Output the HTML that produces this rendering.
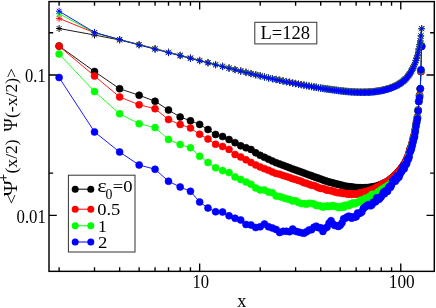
<!DOCTYPE html>
<html><head><meta charset="utf-8"><title>chart</title>
<style>html,body{margin:0;padding:0;background:#fff;overflow:hidden}svg{display:block;will-change:transform}</style>
</head><body>
<svg width="436" height="308" viewBox="0 0 436 308">
<rect width="436" height="308" fill="#ffffff"/>
<defs><clipPath id="c"><rect x="49" y="1.6" width="385.3" height="269.75"/></clipPath></defs>
<g clip-path="url(#c)">
<path d="M59.1 46 L94.51 71.5 L119.64 88.75 L139.13 95.25 L155.05 101.25 L168.51 110 L180.17 117 L190.46 120.75 L199.66 124.4 L207.99 129.5 L215.59 134.5 L222.58 136.5 L229.05 139.5 L235.07 142.7 L240.71 145.8 L246.01 147.75 L251 149.5 L255.72 152.81 L260.2 155.36 L264.46 157.35 L268.52 159.24 L272.41 161.05 L276.12 162.71 L279.69 164.06 L283.11 165.36 L286.41 166.61 L289.59 167.81 L292.65 168.97 L295.61 170.04 L298.48 171.08 L301.25 172.08 L303.94 173.05 L306.54 174 L309.07 174.91 L311.54 175.8 L313.93 176.66 L316.26 177.49 L318.53 178.31 L320.74 179.1 L322.89 179.88 L325 180.63 L327.05 181.37 L329.06 181.96 L331.02 182.47 L332.94 182.97 L334.82 183.46 L336.66 183.94 L338.46 184.41 L340.23 184.87 L341.96 185.33 L343.65 185.77 L345.31 186.2 L346.95 186.42 L348.55 186.63 L350.12 186.83 L351.67 187.03 L353.19 187.23 L354.68 187.43 L356.15 187.61 L357.59 187.67 L359.01 187.74 L360.41 187.8 L361.79 187.87 L363.14 187.87 L364.47 187.8 L365.79 187.74 L367.08 187.67 L368.36 187.61 L369.61 187.43 L370.85 187.23 L372.07 187.03 L373.28 186.83 L374.47 186.63 L375.64 186.42 L376.79 186.2 L377.94 185.77 L379.06 185.33 L380.18 184.87 L381.27 184.41 L382.36 183.94 L383.43 183.46 L384.49 182.97 L385.54 182.47 L386.57 181.96 L387.59 181.37 L388.6 180.63 L389.6 179.88 L390.59 179.1 L391.56 178.31 L392.53 177.49 L393.48 176.66 L394.42 175.8 L395.36 174.91 L396.28 174 L397.2 173.05 L398.1 172.08 L399 171.08 L399.89 170.04 L400.76 168.97 L401.63 167.81 L402.49 166.61 L403.34 165.36 L404.19 164.06 L405.02 162.71 L405.85 161.05 L406.67 159.24 L407.48 157.35 L408.29 155.36 L409.09 152.81 L409.88 149.5 L410.66 147.75 L411.44 145.8 L412.21 142.7 L412.97 139.5 L413.73 136.5 L414.48 134.5 L415.22 129.5 L415.96 124.4 L416.69 120.75 L417.41 117 L418.13 110 L418.84 101.25 L419.55 95.25 L420.25 88.75 L420.95 71.5 L421.64 46" fill="none" stroke="#000000" stroke-width="0.9" stroke-linejoin="round"/>
<path d="M55.6 46a3.5 3.5 0 1 0 7 0a3.5 3.5 0 1 0 -7 0zM91.01 71.5a3.5 3.5 0 1 0 7 0a3.5 3.5 0 1 0 -7 0zM116.14 88.75a3.5 3.5 0 1 0 7 0a3.5 3.5 0 1 0 -7 0zM135.63 95.25a3.5 3.5 0 1 0 7 0a3.5 3.5 0 1 0 -7 0zM151.55 101.25a3.5 3.5 0 1 0 7 0a3.5 3.5 0 1 0 -7 0zM165.01 110a3.5 3.5 0 1 0 7 0a3.5 3.5 0 1 0 -7 0zM176.67 117a3.5 3.5 0 1 0 7 0a3.5 3.5 0 1 0 -7 0zM186.96 120.75a3.5 3.5 0 1 0 7 0a3.5 3.5 0 1 0 -7 0zM196.16 124.4a3.5 3.5 0 1 0 7 0a3.5 3.5 0 1 0 -7 0zM204.49 129.5a3.5 3.5 0 1 0 7 0a3.5 3.5 0 1 0 -7 0zM212.09 134.5a3.5 3.5 0 1 0 7 0a3.5 3.5 0 1 0 -7 0zM219.08 136.5a3.5 3.5 0 1 0 7 0a3.5 3.5 0 1 0 -7 0zM225.55 139.5a3.5 3.5 0 1 0 7 0a3.5 3.5 0 1 0 -7 0zM231.57 142.7a3.5 3.5 0 1 0 7 0a3.5 3.5 0 1 0 -7 0zM237.21 145.8a3.5 3.5 0 1 0 7 0a3.5 3.5 0 1 0 -7 0zM242.51 147.75a3.5 3.5 0 1 0 7 0a3.5 3.5 0 1 0 -7 0zM247.5 149.5a3.5 3.5 0 1 0 7 0a3.5 3.5 0 1 0 -7 0zM252.22 152.81a3.5 3.5 0 1 0 7 0a3.5 3.5 0 1 0 -7 0zM256.7 155.36a3.5 3.5 0 1 0 7 0a3.5 3.5 0 1 0 -7 0zM260.96 157.35a3.5 3.5 0 1 0 7 0a3.5 3.5 0 1 0 -7 0zM265.02 159.24a3.5 3.5 0 1 0 7 0a3.5 3.5 0 1 0 -7 0zM268.91 161.05a3.5 3.5 0 1 0 7 0a3.5 3.5 0 1 0 -7 0zM272.62 162.71a3.5 3.5 0 1 0 7 0a3.5 3.5 0 1 0 -7 0zM276.19 164.06a3.5 3.5 0 1 0 7 0a3.5 3.5 0 1 0 -7 0zM279.61 165.36a3.5 3.5 0 1 0 7 0a3.5 3.5 0 1 0 -7 0zM282.91 166.61a3.5 3.5 0 1 0 7 0a3.5 3.5 0 1 0 -7 0zM286.09 167.81a3.5 3.5 0 1 0 7 0a3.5 3.5 0 1 0 -7 0zM289.15 168.97a3.5 3.5 0 1 0 7 0a3.5 3.5 0 1 0 -7 0zM292.11 170.04a3.5 3.5 0 1 0 7 0a3.5 3.5 0 1 0 -7 0zM294.98 171.08a3.5 3.5 0 1 0 7 0a3.5 3.5 0 1 0 -7 0zM297.75 172.08a3.5 3.5 0 1 0 7 0a3.5 3.5 0 1 0 -7 0zM300.44 173.05a3.5 3.5 0 1 0 7 0a3.5 3.5 0 1 0 -7 0zM303.04 174a3.5 3.5 0 1 0 7 0a3.5 3.5 0 1 0 -7 0zM305.57 174.91a3.5 3.5 0 1 0 7 0a3.5 3.5 0 1 0 -7 0zM308.04 175.8a3.5 3.5 0 1 0 7 0a3.5 3.5 0 1 0 -7 0zM310.43 176.66a3.5 3.5 0 1 0 7 0a3.5 3.5 0 1 0 -7 0zM312.76 177.49a3.5 3.5 0 1 0 7 0a3.5 3.5 0 1 0 -7 0zM315.03 178.31a3.5 3.5 0 1 0 7 0a3.5 3.5 0 1 0 -7 0zM317.24 179.1a3.5 3.5 0 1 0 7 0a3.5 3.5 0 1 0 -7 0zM319.39 179.88a3.5 3.5 0 1 0 7 0a3.5 3.5 0 1 0 -7 0zM321.5 180.63a3.5 3.5 0 1 0 7 0a3.5 3.5 0 1 0 -7 0zM323.55 181.37a3.5 3.5 0 1 0 7 0a3.5 3.5 0 1 0 -7 0zM325.56 181.96a3.5 3.5 0 1 0 7 0a3.5 3.5 0 1 0 -7 0zM327.52 182.47a3.5 3.5 0 1 0 7 0a3.5 3.5 0 1 0 -7 0zM329.44 182.97a3.5 3.5 0 1 0 7 0a3.5 3.5 0 1 0 -7 0zM331.32 183.46a3.5 3.5 0 1 0 7 0a3.5 3.5 0 1 0 -7 0zM333.16 183.94a3.5 3.5 0 1 0 7 0a3.5 3.5 0 1 0 -7 0zM334.96 184.41a3.5 3.5 0 1 0 7 0a3.5 3.5 0 1 0 -7 0zM336.73 184.87a3.5 3.5 0 1 0 7 0a3.5 3.5 0 1 0 -7 0zM338.46 185.33a3.5 3.5 0 1 0 7 0a3.5 3.5 0 1 0 -7 0zM340.15 185.77a3.5 3.5 0 1 0 7 0a3.5 3.5 0 1 0 -7 0zM341.81 186.2a3.5 3.5 0 1 0 7 0a3.5 3.5 0 1 0 -7 0zM343.45 186.42a3.5 3.5 0 1 0 7 0a3.5 3.5 0 1 0 -7 0zM345.05 186.63a3.5 3.5 0 1 0 7 0a3.5 3.5 0 1 0 -7 0zM346.62 186.83a3.5 3.5 0 1 0 7 0a3.5 3.5 0 1 0 -7 0zM348.17 187.03a3.5 3.5 0 1 0 7 0a3.5 3.5 0 1 0 -7 0zM349.69 187.23a3.5 3.5 0 1 0 7 0a3.5 3.5 0 1 0 -7 0zM351.18 187.43a3.5 3.5 0 1 0 7 0a3.5 3.5 0 1 0 -7 0zM352.65 187.61a3.5 3.5 0 1 0 7 0a3.5 3.5 0 1 0 -7 0zM354.09 187.67a3.5 3.5 0 1 0 7 0a3.5 3.5 0 1 0 -7 0zM355.51 187.74a3.5 3.5 0 1 0 7 0a3.5 3.5 0 1 0 -7 0zM356.91 187.8a3.5 3.5 0 1 0 7 0a3.5 3.5 0 1 0 -7 0zM358.29 187.87a3.5 3.5 0 1 0 7 0a3.5 3.5 0 1 0 -7 0zM359.64 187.87a3.5 3.5 0 1 0 7 0a3.5 3.5 0 1 0 -7 0zM360.97 187.8a3.5 3.5 0 1 0 7 0a3.5 3.5 0 1 0 -7 0zM362.29 187.74a3.5 3.5 0 1 0 7 0a3.5 3.5 0 1 0 -7 0zM363.58 187.67a3.5 3.5 0 1 0 7 0a3.5 3.5 0 1 0 -7 0zM364.86 187.61a3.5 3.5 0 1 0 7 0a3.5 3.5 0 1 0 -7 0zM366.11 187.43a3.5 3.5 0 1 0 7 0a3.5 3.5 0 1 0 -7 0zM367.35 187.23a3.5 3.5 0 1 0 7 0a3.5 3.5 0 1 0 -7 0zM368.57 187.03a3.5 3.5 0 1 0 7 0a3.5 3.5 0 1 0 -7 0zM369.78 186.83a3.5 3.5 0 1 0 7 0a3.5 3.5 0 1 0 -7 0zM370.97 186.63a3.5 3.5 0 1 0 7 0a3.5 3.5 0 1 0 -7 0zM372.14 186.42a3.5 3.5 0 1 0 7 0a3.5 3.5 0 1 0 -7 0zM373.29 186.2a3.5 3.5 0 1 0 7 0a3.5 3.5 0 1 0 -7 0zM374.44 185.77a3.5 3.5 0 1 0 7 0a3.5 3.5 0 1 0 -7 0zM375.56 185.33a3.5 3.5 0 1 0 7 0a3.5 3.5 0 1 0 -7 0zM376.68 184.87a3.5 3.5 0 1 0 7 0a3.5 3.5 0 1 0 -7 0zM377.77 184.41a3.5 3.5 0 1 0 7 0a3.5 3.5 0 1 0 -7 0zM378.86 183.94a3.5 3.5 0 1 0 7 0a3.5 3.5 0 1 0 -7 0zM379.93 183.46a3.5 3.5 0 1 0 7 0a3.5 3.5 0 1 0 -7 0zM380.99 182.97a3.5 3.5 0 1 0 7 0a3.5 3.5 0 1 0 -7 0zM382.04 182.47a3.5 3.5 0 1 0 7 0a3.5 3.5 0 1 0 -7 0zM383.07 181.96a3.5 3.5 0 1 0 7 0a3.5 3.5 0 1 0 -7 0zM384.09 181.37a3.5 3.5 0 1 0 7 0a3.5 3.5 0 1 0 -7 0zM385.1 180.63a3.5 3.5 0 1 0 7 0a3.5 3.5 0 1 0 -7 0zM386.1 179.88a3.5 3.5 0 1 0 7 0a3.5 3.5 0 1 0 -7 0zM387.09 179.1a3.5 3.5 0 1 0 7 0a3.5 3.5 0 1 0 -7 0zM388.06 178.31a3.5 3.5 0 1 0 7 0a3.5 3.5 0 1 0 -7 0zM389.03 177.49a3.5 3.5 0 1 0 7 0a3.5 3.5 0 1 0 -7 0zM389.98 176.66a3.5 3.5 0 1 0 7 0a3.5 3.5 0 1 0 -7 0zM390.92 175.8a3.5 3.5 0 1 0 7 0a3.5 3.5 0 1 0 -7 0zM391.86 174.91a3.5 3.5 0 1 0 7 0a3.5 3.5 0 1 0 -7 0zM392.78 174a3.5 3.5 0 1 0 7 0a3.5 3.5 0 1 0 -7 0zM393.7 173.05a3.5 3.5 0 1 0 7 0a3.5 3.5 0 1 0 -7 0zM394.6 172.08a3.5 3.5 0 1 0 7 0a3.5 3.5 0 1 0 -7 0zM395.5 171.08a3.5 3.5 0 1 0 7 0a3.5 3.5 0 1 0 -7 0zM396.39 170.04a3.5 3.5 0 1 0 7 0a3.5 3.5 0 1 0 -7 0zM397.26 168.97a3.5 3.5 0 1 0 7 0a3.5 3.5 0 1 0 -7 0zM398.13 167.81a3.5 3.5 0 1 0 7 0a3.5 3.5 0 1 0 -7 0zM398.99 166.61a3.5 3.5 0 1 0 7 0a3.5 3.5 0 1 0 -7 0zM399.84 165.36a3.5 3.5 0 1 0 7 0a3.5 3.5 0 1 0 -7 0zM400.69 164.06a3.5 3.5 0 1 0 7 0a3.5 3.5 0 1 0 -7 0zM401.52 162.71a3.5 3.5 0 1 0 7 0a3.5 3.5 0 1 0 -7 0zM402.35 161.05a3.5 3.5 0 1 0 7 0a3.5 3.5 0 1 0 -7 0zM403.17 159.24a3.5 3.5 0 1 0 7 0a3.5 3.5 0 1 0 -7 0zM403.98 157.35a3.5 3.5 0 1 0 7 0a3.5 3.5 0 1 0 -7 0zM404.79 155.36a3.5 3.5 0 1 0 7 0a3.5 3.5 0 1 0 -7 0zM405.59 152.81a3.5 3.5 0 1 0 7 0a3.5 3.5 0 1 0 -7 0zM406.38 149.5a3.5 3.5 0 1 0 7 0a3.5 3.5 0 1 0 -7 0zM407.16 147.75a3.5 3.5 0 1 0 7 0a3.5 3.5 0 1 0 -7 0zM407.94 145.8a3.5 3.5 0 1 0 7 0a3.5 3.5 0 1 0 -7 0zM408.71 142.7a3.5 3.5 0 1 0 7 0a3.5 3.5 0 1 0 -7 0zM409.47 139.5a3.5 3.5 0 1 0 7 0a3.5 3.5 0 1 0 -7 0zM410.23 136.5a3.5 3.5 0 1 0 7 0a3.5 3.5 0 1 0 -7 0zM410.98 134.5a3.5 3.5 0 1 0 7 0a3.5 3.5 0 1 0 -7 0zM411.72 129.5a3.5 3.5 0 1 0 7 0a3.5 3.5 0 1 0 -7 0zM412.46 124.4a3.5 3.5 0 1 0 7 0a3.5 3.5 0 1 0 -7 0zM413.19 120.75a3.5 3.5 0 1 0 7 0a3.5 3.5 0 1 0 -7 0zM413.91 117a3.5 3.5 0 1 0 7 0a3.5 3.5 0 1 0 -7 0zM414.63 110a3.5 3.5 0 1 0 7 0a3.5 3.5 0 1 0 -7 0zM415.34 101.25a3.5 3.5 0 1 0 7 0a3.5 3.5 0 1 0 -7 0zM416.05 95.25a3.5 3.5 0 1 0 7 0a3.5 3.5 0 1 0 -7 0zM416.75 88.75a3.5 3.5 0 1 0 7 0a3.5 3.5 0 1 0 -7 0zM417.45 71.5a3.5 3.5 0 1 0 7 0a3.5 3.5 0 1 0 -7 0zM418.14 46a3.5 3.5 0 1 0 7 0a3.5 3.5 0 1 0 -7 0z" fill="#000000" stroke="#000000" stroke-width="0.6"/>
<path d="M59.1 46.25 L94.51 76 L119.64 97 L139.13 104.75 L155.05 108.75 L168.51 119.5 L180.17 124.5 L190.46 128 L199.66 134.25 L207.99 139 L215.59 144.25 L222.58 146.5 L229.05 149.4 L235.07 154.5 L240.71 157 L246.01 159.8 L251 162.45 L255.72 164.95 L260.2 166.98 L264.46 168.66 L268.52 170.31 L272.41 172.03 L276.12 173.58 L279.69 174.26 L283.11 175.53 L286.41 176.48 L289.59 177.51 L292.65 178.68 L295.61 179.42 L298.48 180.46 L301.25 181.33 L303.94 182.69 L306.54 183.31 L309.07 184.33 L311.54 185.24 L313.93 185.4 L316.26 186.52 L318.53 187.71 L320.74 188.38 L322.89 188.44 L325 189.17 L327.05 190.21 L329.06 190.31 L331.02 190.83 L332.94 191 L334.82 191.92 L336.66 192.36 L338.46 192.79 L340.23 192.36 L341.96 193.23 L343.65 193.47 L345.31 193.24 L346.95 194.08 L348.55 194.25 L350.12 193.59 L351.67 194.41 L353.19 193.94 L354.68 194.01 L356.15 194.28 L357.59 193.89 L359.01 193 L360.41 193.04 L361.79 192.91 L363.14 192.5 L364.47 191.98 L365.79 191.72 L367.08 191.74 L368.36 190.65 L369.61 190.78 L370.85 190.26 L372.07 189.39 L373.28 189.11 L374.47 188.81 L375.64 188.09 L376.79 187.02 L377.94 187.31 L379.06 186.46 L380.18 185.99 L381.27 184.54 L382.36 184.18 L383.43 183.43 L384.49 183.63 L385.54 182.57 L386.57 181.87 L387.59 181.55 L388.6 181.3 L389.6 180.45 L390.59 179.12 L391.56 178.56 L392.53 177.75 L393.48 176.91 L394.42 176.05 L395.36 175.16 L396.28 174.25 L397.2 173.3 L398.1 172.33 L399 171.32 L399.89 170.29 L400.76 169.21 L401.63 168.05 L402.49 166.84 L403.34 165.59 L404.19 164.3 L405.02 162.95 L405.85 161.28 L406.67 159.47 L407.48 157.58 L408.29 155.59 L409.09 153.04 L409.88 149.72 L410.66 147.97 L411.44 146.02 L412.21 142.92 L412.97 139.72 L413.73 136.72 L414.48 134.72 L415.22 129.71 L415.96 124.61 L416.69 120.96 L417.41 117.21 L418.13 110.21 L418.84 101.46 L419.55 95.45 L420.25 88.95 L420.95 71.7 L421.64 46.2" fill="none" stroke="#ff0000" stroke-width="0.9" stroke-linejoin="round"/>
<path d="M55.6 46.25a3.5 3.5 0 1 0 7 0a3.5 3.5 0 1 0 -7 0zM91.01 76a3.5 3.5 0 1 0 7 0a3.5 3.5 0 1 0 -7 0zM116.14 97a3.5 3.5 0 1 0 7 0a3.5 3.5 0 1 0 -7 0zM135.63 104.75a3.5 3.5 0 1 0 7 0a3.5 3.5 0 1 0 -7 0zM151.55 108.75a3.5 3.5 0 1 0 7 0a3.5 3.5 0 1 0 -7 0zM165.01 119.5a3.5 3.5 0 1 0 7 0a3.5 3.5 0 1 0 -7 0zM176.67 124.5a3.5 3.5 0 1 0 7 0a3.5 3.5 0 1 0 -7 0zM186.96 128a3.5 3.5 0 1 0 7 0a3.5 3.5 0 1 0 -7 0zM196.16 134.25a3.5 3.5 0 1 0 7 0a3.5 3.5 0 1 0 -7 0zM204.49 139a3.5 3.5 0 1 0 7 0a3.5 3.5 0 1 0 -7 0zM212.09 144.25a3.5 3.5 0 1 0 7 0a3.5 3.5 0 1 0 -7 0zM219.08 146.5a3.5 3.5 0 1 0 7 0a3.5 3.5 0 1 0 -7 0zM225.55 149.4a3.5 3.5 0 1 0 7 0a3.5 3.5 0 1 0 -7 0zM231.57 154.5a3.5 3.5 0 1 0 7 0a3.5 3.5 0 1 0 -7 0zM237.21 157a3.5 3.5 0 1 0 7 0a3.5 3.5 0 1 0 -7 0zM242.51 159.8a3.5 3.5 0 1 0 7 0a3.5 3.5 0 1 0 -7 0zM247.5 162.45a3.5 3.5 0 1 0 7 0a3.5 3.5 0 1 0 -7 0zM252.22 164.95a3.5 3.5 0 1 0 7 0a3.5 3.5 0 1 0 -7 0zM256.7 166.98a3.5 3.5 0 1 0 7 0a3.5 3.5 0 1 0 -7 0zM260.96 168.66a3.5 3.5 0 1 0 7 0a3.5 3.5 0 1 0 -7 0zM265.02 170.31a3.5 3.5 0 1 0 7 0a3.5 3.5 0 1 0 -7 0zM268.91 172.03a3.5 3.5 0 1 0 7 0a3.5 3.5 0 1 0 -7 0zM272.62 173.58a3.5 3.5 0 1 0 7 0a3.5 3.5 0 1 0 -7 0zM276.19 174.26a3.5 3.5 0 1 0 7 0a3.5 3.5 0 1 0 -7 0zM279.61 175.53a3.5 3.5 0 1 0 7 0a3.5 3.5 0 1 0 -7 0zM282.91 176.48a3.5 3.5 0 1 0 7 0a3.5 3.5 0 1 0 -7 0zM286.09 177.51a3.5 3.5 0 1 0 7 0a3.5 3.5 0 1 0 -7 0zM289.15 178.68a3.5 3.5 0 1 0 7 0a3.5 3.5 0 1 0 -7 0zM292.11 179.42a3.5 3.5 0 1 0 7 0a3.5 3.5 0 1 0 -7 0zM294.98 180.46a3.5 3.5 0 1 0 7 0a3.5 3.5 0 1 0 -7 0zM297.75 181.33a3.5 3.5 0 1 0 7 0a3.5 3.5 0 1 0 -7 0zM300.44 182.69a3.5 3.5 0 1 0 7 0a3.5 3.5 0 1 0 -7 0zM303.04 183.31a3.5 3.5 0 1 0 7 0a3.5 3.5 0 1 0 -7 0zM305.57 184.33a3.5 3.5 0 1 0 7 0a3.5 3.5 0 1 0 -7 0zM308.04 185.24a3.5 3.5 0 1 0 7 0a3.5 3.5 0 1 0 -7 0zM310.43 185.4a3.5 3.5 0 1 0 7 0a3.5 3.5 0 1 0 -7 0zM312.76 186.52a3.5 3.5 0 1 0 7 0a3.5 3.5 0 1 0 -7 0zM315.03 187.71a3.5 3.5 0 1 0 7 0a3.5 3.5 0 1 0 -7 0zM317.24 188.38a3.5 3.5 0 1 0 7 0a3.5 3.5 0 1 0 -7 0zM319.39 188.44a3.5 3.5 0 1 0 7 0a3.5 3.5 0 1 0 -7 0zM321.5 189.17a3.5 3.5 0 1 0 7 0a3.5 3.5 0 1 0 -7 0zM323.55 190.21a3.5 3.5 0 1 0 7 0a3.5 3.5 0 1 0 -7 0zM325.56 190.31a3.5 3.5 0 1 0 7 0a3.5 3.5 0 1 0 -7 0zM327.52 190.83a3.5 3.5 0 1 0 7 0a3.5 3.5 0 1 0 -7 0zM329.44 191a3.5 3.5 0 1 0 7 0a3.5 3.5 0 1 0 -7 0zM331.32 191.92a3.5 3.5 0 1 0 7 0a3.5 3.5 0 1 0 -7 0zM333.16 192.36a3.5 3.5 0 1 0 7 0a3.5 3.5 0 1 0 -7 0zM334.96 192.79a3.5 3.5 0 1 0 7 0a3.5 3.5 0 1 0 -7 0zM336.73 192.36a3.5 3.5 0 1 0 7 0a3.5 3.5 0 1 0 -7 0zM338.46 193.23a3.5 3.5 0 1 0 7 0a3.5 3.5 0 1 0 -7 0zM340.15 193.47a3.5 3.5 0 1 0 7 0a3.5 3.5 0 1 0 -7 0zM341.81 193.24a3.5 3.5 0 1 0 7 0a3.5 3.5 0 1 0 -7 0zM343.45 194.08a3.5 3.5 0 1 0 7 0a3.5 3.5 0 1 0 -7 0zM345.05 194.25a3.5 3.5 0 1 0 7 0a3.5 3.5 0 1 0 -7 0zM346.62 193.59a3.5 3.5 0 1 0 7 0a3.5 3.5 0 1 0 -7 0zM348.17 194.41a3.5 3.5 0 1 0 7 0a3.5 3.5 0 1 0 -7 0zM349.69 193.94a3.5 3.5 0 1 0 7 0a3.5 3.5 0 1 0 -7 0zM351.18 194.01a3.5 3.5 0 1 0 7 0a3.5 3.5 0 1 0 -7 0zM352.65 194.28a3.5 3.5 0 1 0 7 0a3.5 3.5 0 1 0 -7 0zM354.09 193.89a3.5 3.5 0 1 0 7 0a3.5 3.5 0 1 0 -7 0zM355.51 193a3.5 3.5 0 1 0 7 0a3.5 3.5 0 1 0 -7 0zM356.91 193.04a3.5 3.5 0 1 0 7 0a3.5 3.5 0 1 0 -7 0zM358.29 192.91a3.5 3.5 0 1 0 7 0a3.5 3.5 0 1 0 -7 0zM359.64 192.5a3.5 3.5 0 1 0 7 0a3.5 3.5 0 1 0 -7 0zM360.97 191.98a3.5 3.5 0 1 0 7 0a3.5 3.5 0 1 0 -7 0zM362.29 191.72a3.5 3.5 0 1 0 7 0a3.5 3.5 0 1 0 -7 0zM363.58 191.74a3.5 3.5 0 1 0 7 0a3.5 3.5 0 1 0 -7 0zM364.86 190.65a3.5 3.5 0 1 0 7 0a3.5 3.5 0 1 0 -7 0zM366.11 190.78a3.5 3.5 0 1 0 7 0a3.5 3.5 0 1 0 -7 0zM367.35 190.26a3.5 3.5 0 1 0 7 0a3.5 3.5 0 1 0 -7 0zM368.57 189.39a3.5 3.5 0 1 0 7 0a3.5 3.5 0 1 0 -7 0zM369.78 189.11a3.5 3.5 0 1 0 7 0a3.5 3.5 0 1 0 -7 0zM370.97 188.81a3.5 3.5 0 1 0 7 0a3.5 3.5 0 1 0 -7 0zM372.14 188.09a3.5 3.5 0 1 0 7 0a3.5 3.5 0 1 0 -7 0zM373.29 187.02a3.5 3.5 0 1 0 7 0a3.5 3.5 0 1 0 -7 0zM374.44 187.31a3.5 3.5 0 1 0 7 0a3.5 3.5 0 1 0 -7 0zM375.56 186.46a3.5 3.5 0 1 0 7 0a3.5 3.5 0 1 0 -7 0zM376.68 185.99a3.5 3.5 0 1 0 7 0a3.5 3.5 0 1 0 -7 0zM377.77 184.54a3.5 3.5 0 1 0 7 0a3.5 3.5 0 1 0 -7 0zM378.86 184.18a3.5 3.5 0 1 0 7 0a3.5 3.5 0 1 0 -7 0zM379.93 183.43a3.5 3.5 0 1 0 7 0a3.5 3.5 0 1 0 -7 0zM380.99 183.63a3.5 3.5 0 1 0 7 0a3.5 3.5 0 1 0 -7 0zM382.04 182.57a3.5 3.5 0 1 0 7 0a3.5 3.5 0 1 0 -7 0zM383.07 181.87a3.5 3.5 0 1 0 7 0a3.5 3.5 0 1 0 -7 0zM384.09 181.55a3.5 3.5 0 1 0 7 0a3.5 3.5 0 1 0 -7 0zM385.1 181.3a3.5 3.5 0 1 0 7 0a3.5 3.5 0 1 0 -7 0zM386.1 180.45a3.5 3.5 0 1 0 7 0a3.5 3.5 0 1 0 -7 0zM387.09 179.12a3.5 3.5 0 1 0 7 0a3.5 3.5 0 1 0 -7 0zM388.06 178.56a3.5 3.5 0 1 0 7 0a3.5 3.5 0 1 0 -7 0zM389.03 177.75a3.5 3.5 0 1 0 7 0a3.5 3.5 0 1 0 -7 0zM389.98 176.91a3.5 3.5 0 1 0 7 0a3.5 3.5 0 1 0 -7 0zM390.92 176.05a3.5 3.5 0 1 0 7 0a3.5 3.5 0 1 0 -7 0zM391.86 175.16a3.5 3.5 0 1 0 7 0a3.5 3.5 0 1 0 -7 0zM392.78 174.25a3.5 3.5 0 1 0 7 0a3.5 3.5 0 1 0 -7 0zM393.7 173.3a3.5 3.5 0 1 0 7 0a3.5 3.5 0 1 0 -7 0zM394.6 172.33a3.5 3.5 0 1 0 7 0a3.5 3.5 0 1 0 -7 0zM395.5 171.32a3.5 3.5 0 1 0 7 0a3.5 3.5 0 1 0 -7 0zM396.39 170.29a3.5 3.5 0 1 0 7 0a3.5 3.5 0 1 0 -7 0zM397.26 169.21a3.5 3.5 0 1 0 7 0a3.5 3.5 0 1 0 -7 0zM398.13 168.05a3.5 3.5 0 1 0 7 0a3.5 3.5 0 1 0 -7 0zM398.99 166.84a3.5 3.5 0 1 0 7 0a3.5 3.5 0 1 0 -7 0zM399.84 165.59a3.5 3.5 0 1 0 7 0a3.5 3.5 0 1 0 -7 0zM400.69 164.3a3.5 3.5 0 1 0 7 0a3.5 3.5 0 1 0 -7 0zM401.52 162.95a3.5 3.5 0 1 0 7 0a3.5 3.5 0 1 0 -7 0zM402.35 161.28a3.5 3.5 0 1 0 7 0a3.5 3.5 0 1 0 -7 0zM403.17 159.47a3.5 3.5 0 1 0 7 0a3.5 3.5 0 1 0 -7 0zM403.98 157.58a3.5 3.5 0 1 0 7 0a3.5 3.5 0 1 0 -7 0zM404.79 155.59a3.5 3.5 0 1 0 7 0a3.5 3.5 0 1 0 -7 0zM405.59 153.04a3.5 3.5 0 1 0 7 0a3.5 3.5 0 1 0 -7 0zM406.38 149.72a3.5 3.5 0 1 0 7 0a3.5 3.5 0 1 0 -7 0zM407.16 147.97a3.5 3.5 0 1 0 7 0a3.5 3.5 0 1 0 -7 0zM407.94 146.02a3.5 3.5 0 1 0 7 0a3.5 3.5 0 1 0 -7 0zM408.71 142.92a3.5 3.5 0 1 0 7 0a3.5 3.5 0 1 0 -7 0zM409.47 139.72a3.5 3.5 0 1 0 7 0a3.5 3.5 0 1 0 -7 0zM410.23 136.72a3.5 3.5 0 1 0 7 0a3.5 3.5 0 1 0 -7 0zM410.98 134.72a3.5 3.5 0 1 0 7 0a3.5 3.5 0 1 0 -7 0zM411.72 129.71a3.5 3.5 0 1 0 7 0a3.5 3.5 0 1 0 -7 0zM412.46 124.61a3.5 3.5 0 1 0 7 0a3.5 3.5 0 1 0 -7 0zM413.19 120.96a3.5 3.5 0 1 0 7 0a3.5 3.5 0 1 0 -7 0zM413.91 117.21a3.5 3.5 0 1 0 7 0a3.5 3.5 0 1 0 -7 0zM414.63 110.21a3.5 3.5 0 1 0 7 0a3.5 3.5 0 1 0 -7 0zM415.34 101.46a3.5 3.5 0 1 0 7 0a3.5 3.5 0 1 0 -7 0zM416.05 95.45a3.5 3.5 0 1 0 7 0a3.5 3.5 0 1 0 -7 0zM416.75 88.95a3.5 3.5 0 1 0 7 0a3.5 3.5 0 1 0 -7 0zM417.45 71.7a3.5 3.5 0 1 0 7 0a3.5 3.5 0 1 0 -7 0zM418.14 46.2a3.5 3.5 0 1 0 7 0a3.5 3.5 0 1 0 -7 0z" fill="#ff0000" stroke="#ff0000" stroke-width="0.6"/>
<path d="M59.1 54 L94.51 91.5 L119.64 113.75 L139.13 123.75 L155.05 127.6 L168.51 139.4 L180.17 144.5 L190.46 147.75 L199.66 156.25 L207.99 162.5 L215.59 167.75 L222.58 170.6 L229.05 172.5 L235.07 177 L240.71 179.5 L246.01 182 L251 184.25 L255.72 188 L260.2 190 L264.46 190 L268.52 192 L272.41 192.79 L276.12 196.04 L279.69 196.46 L283.11 197.66 L286.41 198.65 L289.59 199.5 L292.65 200.98 L295.61 200.68 L298.48 202.48 L301.25 203.57 L303.94 203.62 L306.54 204.13 L309.07 203.31 L311.54 203.46 L313.93 203.9 L316.26 205.45 L318.53 205.58 L320.74 205.99 L322.89 207.14 L325 206.58 L327.05 205.94 L329.06 206.6 L331.02 206.1 L332.94 205.48 L334.82 206.41 L336.66 206.59 L338.46 207.55 L340.23 207.38 L341.96 206.18 L343.65 207.25 L345.31 205.21 L346.95 205.49 L348.55 205.68 L350.12 204 L351.67 204.2 L353.19 202.84 L354.68 203.65 L356.15 203.31 L357.59 202.24 L359.01 202.16 L360.41 200.37 L361.79 200.47 L363.14 199.63 L364.47 199.02 L365.79 198.18 L367.08 198.34 L368.36 197.94 L369.61 196.38 L370.85 196.13 L372.07 194.3 L373.28 195.04 L374.47 194.39 L375.64 194.52 L376.79 193.61 L377.94 191.95 L379.06 191.57 L380.18 191.53 L381.27 189.62 L382.36 189.87 L383.43 188.64 L384.49 187.88 L385.54 187.1 L386.57 187.83 L387.59 185.82 L388.6 185.2 L389.6 184.62 L390.59 184.69 L391.56 182.2 L392.53 182 L393.48 181.25 L394.42 180.94 L395.36 179.81 L396.28 178.14 L397.2 177.08 L398.1 175.99 L399 174.87 L399.89 173.72 L400.76 172.53 L401.63 171.25 L402.49 169.93 L403.34 168.57 L404.19 167.15 L405.02 165.68 L405.85 163.91 L406.67 161.98 L407.48 159.97 L408.29 157.87 L409.09 155.2 L409.88 151.77 L410.66 149.9 L411.44 147.84 L412.21 144.62 L412.97 141.3 L413.73 138.19 L414.48 136.07 L415.22 130.95 L415.96 125.74 L416.69 121.97 L417.41 118.1 L418.13 110.7 L418.84 101.46 L419.55 96.79 L420.25 88.75 L420.95 70.31 L421.64 46.35" fill="none" stroke="#00ff00" stroke-width="0.9" stroke-linejoin="round"/>
<path d="M55.6 54a3.5 3.5 0 1 0 7 0a3.5 3.5 0 1 0 -7 0zM91.01 91.5a3.5 3.5 0 1 0 7 0a3.5 3.5 0 1 0 -7 0zM116.14 113.75a3.5 3.5 0 1 0 7 0a3.5 3.5 0 1 0 -7 0zM135.63 123.75a3.5 3.5 0 1 0 7 0a3.5 3.5 0 1 0 -7 0zM151.55 127.6a3.5 3.5 0 1 0 7 0a3.5 3.5 0 1 0 -7 0zM165.01 139.4a3.5 3.5 0 1 0 7 0a3.5 3.5 0 1 0 -7 0zM176.67 144.5a3.5 3.5 0 1 0 7 0a3.5 3.5 0 1 0 -7 0zM186.96 147.75a3.5 3.5 0 1 0 7 0a3.5 3.5 0 1 0 -7 0zM196.16 156.25a3.5 3.5 0 1 0 7 0a3.5 3.5 0 1 0 -7 0zM204.49 162.5a3.5 3.5 0 1 0 7 0a3.5 3.5 0 1 0 -7 0zM212.09 167.75a3.5 3.5 0 1 0 7 0a3.5 3.5 0 1 0 -7 0zM219.08 170.6a3.5 3.5 0 1 0 7 0a3.5 3.5 0 1 0 -7 0zM225.55 172.5a3.5 3.5 0 1 0 7 0a3.5 3.5 0 1 0 -7 0zM231.57 177a3.5 3.5 0 1 0 7 0a3.5 3.5 0 1 0 -7 0zM237.21 179.5a3.5 3.5 0 1 0 7 0a3.5 3.5 0 1 0 -7 0zM242.51 182a3.5 3.5 0 1 0 7 0a3.5 3.5 0 1 0 -7 0zM247.5 184.25a3.5 3.5 0 1 0 7 0a3.5 3.5 0 1 0 -7 0zM252.22 188a3.5 3.5 0 1 0 7 0a3.5 3.5 0 1 0 -7 0zM256.7 190a3.5 3.5 0 1 0 7 0a3.5 3.5 0 1 0 -7 0zM260.96 190a3.5 3.5 0 1 0 7 0a3.5 3.5 0 1 0 -7 0zM265.02 192a3.5 3.5 0 1 0 7 0a3.5 3.5 0 1 0 -7 0zM268.91 192.79a3.5 3.5 0 1 0 7 0a3.5 3.5 0 1 0 -7 0zM272.62 196.04a3.5 3.5 0 1 0 7 0a3.5 3.5 0 1 0 -7 0zM276.19 196.46a3.5 3.5 0 1 0 7 0a3.5 3.5 0 1 0 -7 0zM279.61 197.66a3.5 3.5 0 1 0 7 0a3.5 3.5 0 1 0 -7 0zM282.91 198.65a3.5 3.5 0 1 0 7 0a3.5 3.5 0 1 0 -7 0zM286.09 199.5a3.5 3.5 0 1 0 7 0a3.5 3.5 0 1 0 -7 0zM289.15 200.98a3.5 3.5 0 1 0 7 0a3.5 3.5 0 1 0 -7 0zM292.11 200.68a3.5 3.5 0 1 0 7 0a3.5 3.5 0 1 0 -7 0zM294.98 202.48a3.5 3.5 0 1 0 7 0a3.5 3.5 0 1 0 -7 0zM297.75 203.57a3.5 3.5 0 1 0 7 0a3.5 3.5 0 1 0 -7 0zM300.44 203.62a3.5 3.5 0 1 0 7 0a3.5 3.5 0 1 0 -7 0zM303.04 204.13a3.5 3.5 0 1 0 7 0a3.5 3.5 0 1 0 -7 0zM305.57 203.31a3.5 3.5 0 1 0 7 0a3.5 3.5 0 1 0 -7 0zM308.04 203.46a3.5 3.5 0 1 0 7 0a3.5 3.5 0 1 0 -7 0zM310.43 203.9a3.5 3.5 0 1 0 7 0a3.5 3.5 0 1 0 -7 0zM312.76 205.45a3.5 3.5 0 1 0 7 0a3.5 3.5 0 1 0 -7 0zM315.03 205.58a3.5 3.5 0 1 0 7 0a3.5 3.5 0 1 0 -7 0zM317.24 205.99a3.5 3.5 0 1 0 7 0a3.5 3.5 0 1 0 -7 0zM319.39 207.14a3.5 3.5 0 1 0 7 0a3.5 3.5 0 1 0 -7 0zM321.5 206.58a3.5 3.5 0 1 0 7 0a3.5 3.5 0 1 0 -7 0zM323.55 205.94a3.5 3.5 0 1 0 7 0a3.5 3.5 0 1 0 -7 0zM325.56 206.6a3.5 3.5 0 1 0 7 0a3.5 3.5 0 1 0 -7 0zM327.52 206.1a3.5 3.5 0 1 0 7 0a3.5 3.5 0 1 0 -7 0zM329.44 205.48a3.5 3.5 0 1 0 7 0a3.5 3.5 0 1 0 -7 0zM331.32 206.41a3.5 3.5 0 1 0 7 0a3.5 3.5 0 1 0 -7 0zM333.16 206.59a3.5 3.5 0 1 0 7 0a3.5 3.5 0 1 0 -7 0zM334.96 207.55a3.5 3.5 0 1 0 7 0a3.5 3.5 0 1 0 -7 0zM336.73 207.38a3.5 3.5 0 1 0 7 0a3.5 3.5 0 1 0 -7 0zM338.46 206.18a3.5 3.5 0 1 0 7 0a3.5 3.5 0 1 0 -7 0zM340.15 207.25a3.5 3.5 0 1 0 7 0a3.5 3.5 0 1 0 -7 0zM341.81 205.21a3.5 3.5 0 1 0 7 0a3.5 3.5 0 1 0 -7 0zM343.45 205.49a3.5 3.5 0 1 0 7 0a3.5 3.5 0 1 0 -7 0zM345.05 205.68a3.5 3.5 0 1 0 7 0a3.5 3.5 0 1 0 -7 0zM346.62 204a3.5 3.5 0 1 0 7 0a3.5 3.5 0 1 0 -7 0zM348.17 204.2a3.5 3.5 0 1 0 7 0a3.5 3.5 0 1 0 -7 0zM349.69 202.84a3.5 3.5 0 1 0 7 0a3.5 3.5 0 1 0 -7 0zM351.18 203.65a3.5 3.5 0 1 0 7 0a3.5 3.5 0 1 0 -7 0zM352.65 203.31a3.5 3.5 0 1 0 7 0a3.5 3.5 0 1 0 -7 0zM354.09 202.24a3.5 3.5 0 1 0 7 0a3.5 3.5 0 1 0 -7 0zM355.51 202.16a3.5 3.5 0 1 0 7 0a3.5 3.5 0 1 0 -7 0zM356.91 200.37a3.5 3.5 0 1 0 7 0a3.5 3.5 0 1 0 -7 0zM358.29 200.47a3.5 3.5 0 1 0 7 0a3.5 3.5 0 1 0 -7 0zM359.64 199.63a3.5 3.5 0 1 0 7 0a3.5 3.5 0 1 0 -7 0zM360.97 199.02a3.5 3.5 0 1 0 7 0a3.5 3.5 0 1 0 -7 0zM362.29 198.18a3.5 3.5 0 1 0 7 0a3.5 3.5 0 1 0 -7 0zM363.58 198.34a3.5 3.5 0 1 0 7 0a3.5 3.5 0 1 0 -7 0zM364.86 197.94a3.5 3.5 0 1 0 7 0a3.5 3.5 0 1 0 -7 0zM366.11 196.38a3.5 3.5 0 1 0 7 0a3.5 3.5 0 1 0 -7 0zM367.35 196.13a3.5 3.5 0 1 0 7 0a3.5 3.5 0 1 0 -7 0zM368.57 194.3a3.5 3.5 0 1 0 7 0a3.5 3.5 0 1 0 -7 0zM369.78 195.04a3.5 3.5 0 1 0 7 0a3.5 3.5 0 1 0 -7 0zM370.97 194.39a3.5 3.5 0 1 0 7 0a3.5 3.5 0 1 0 -7 0zM372.14 194.52a3.5 3.5 0 1 0 7 0a3.5 3.5 0 1 0 -7 0zM373.29 193.61a3.5 3.5 0 1 0 7 0a3.5 3.5 0 1 0 -7 0zM374.44 191.95a3.5 3.5 0 1 0 7 0a3.5 3.5 0 1 0 -7 0zM375.56 191.57a3.5 3.5 0 1 0 7 0a3.5 3.5 0 1 0 -7 0zM376.68 191.53a3.5 3.5 0 1 0 7 0a3.5 3.5 0 1 0 -7 0zM377.77 189.62a3.5 3.5 0 1 0 7 0a3.5 3.5 0 1 0 -7 0zM378.86 189.87a3.5 3.5 0 1 0 7 0a3.5 3.5 0 1 0 -7 0zM379.93 188.64a3.5 3.5 0 1 0 7 0a3.5 3.5 0 1 0 -7 0zM380.99 187.88a3.5 3.5 0 1 0 7 0a3.5 3.5 0 1 0 -7 0zM382.04 187.1a3.5 3.5 0 1 0 7 0a3.5 3.5 0 1 0 -7 0zM383.07 187.83a3.5 3.5 0 1 0 7 0a3.5 3.5 0 1 0 -7 0zM384.09 185.82a3.5 3.5 0 1 0 7 0a3.5 3.5 0 1 0 -7 0zM385.1 185.2a3.5 3.5 0 1 0 7 0a3.5 3.5 0 1 0 -7 0zM386.1 184.62a3.5 3.5 0 1 0 7 0a3.5 3.5 0 1 0 -7 0zM387.09 184.69a3.5 3.5 0 1 0 7 0a3.5 3.5 0 1 0 -7 0zM388.06 182.2a3.5 3.5 0 1 0 7 0a3.5 3.5 0 1 0 -7 0zM389.03 182a3.5 3.5 0 1 0 7 0a3.5 3.5 0 1 0 -7 0zM389.98 181.25a3.5 3.5 0 1 0 7 0a3.5 3.5 0 1 0 -7 0zM390.92 180.94a3.5 3.5 0 1 0 7 0a3.5 3.5 0 1 0 -7 0zM391.86 179.81a3.5 3.5 0 1 0 7 0a3.5 3.5 0 1 0 -7 0zM392.78 178.14a3.5 3.5 0 1 0 7 0a3.5 3.5 0 1 0 -7 0zM393.7 177.08a3.5 3.5 0 1 0 7 0a3.5 3.5 0 1 0 -7 0zM394.6 175.99a3.5 3.5 0 1 0 7 0a3.5 3.5 0 1 0 -7 0zM395.5 174.87a3.5 3.5 0 1 0 7 0a3.5 3.5 0 1 0 -7 0zM396.39 173.72a3.5 3.5 0 1 0 7 0a3.5 3.5 0 1 0 -7 0zM397.26 172.53a3.5 3.5 0 1 0 7 0a3.5 3.5 0 1 0 -7 0zM398.13 171.25a3.5 3.5 0 1 0 7 0a3.5 3.5 0 1 0 -7 0zM398.99 169.93a3.5 3.5 0 1 0 7 0a3.5 3.5 0 1 0 -7 0zM399.84 168.57a3.5 3.5 0 1 0 7 0a3.5 3.5 0 1 0 -7 0zM400.69 167.15a3.5 3.5 0 1 0 7 0a3.5 3.5 0 1 0 -7 0zM401.52 165.68a3.5 3.5 0 1 0 7 0a3.5 3.5 0 1 0 -7 0zM402.35 163.91a3.5 3.5 0 1 0 7 0a3.5 3.5 0 1 0 -7 0zM403.17 161.98a3.5 3.5 0 1 0 7 0a3.5 3.5 0 1 0 -7 0zM403.98 159.97a3.5 3.5 0 1 0 7 0a3.5 3.5 0 1 0 -7 0zM404.79 157.87a3.5 3.5 0 1 0 7 0a3.5 3.5 0 1 0 -7 0zM405.59 155.2a3.5 3.5 0 1 0 7 0a3.5 3.5 0 1 0 -7 0zM406.38 151.77a3.5 3.5 0 1 0 7 0a3.5 3.5 0 1 0 -7 0zM407.16 149.9a3.5 3.5 0 1 0 7 0a3.5 3.5 0 1 0 -7 0zM407.94 147.84a3.5 3.5 0 1 0 7 0a3.5 3.5 0 1 0 -7 0zM408.71 144.62a3.5 3.5 0 1 0 7 0a3.5 3.5 0 1 0 -7 0zM409.47 141.3a3.5 3.5 0 1 0 7 0a3.5 3.5 0 1 0 -7 0zM410.23 138.19a3.5 3.5 0 1 0 7 0a3.5 3.5 0 1 0 -7 0zM410.98 136.07a3.5 3.5 0 1 0 7 0a3.5 3.5 0 1 0 -7 0zM411.72 130.95a3.5 3.5 0 1 0 7 0a3.5 3.5 0 1 0 -7 0zM412.46 125.74a3.5 3.5 0 1 0 7 0a3.5 3.5 0 1 0 -7 0zM413.19 121.97a3.5 3.5 0 1 0 7 0a3.5 3.5 0 1 0 -7 0zM413.91 118.1a3.5 3.5 0 1 0 7 0a3.5 3.5 0 1 0 -7 0zM414.63 110.7a3.5 3.5 0 1 0 7 0a3.5 3.5 0 1 0 -7 0zM415.34 101.46a3.5 3.5 0 1 0 7 0a3.5 3.5 0 1 0 -7 0zM416.05 96.79a3.5 3.5 0 1 0 7 0a3.5 3.5 0 1 0 -7 0zM416.75 88.75a3.5 3.5 0 1 0 7 0a3.5 3.5 0 1 0 -7 0zM417.45 70.31a3.5 3.5 0 1 0 7 0a3.5 3.5 0 1 0 -7 0zM418.14 46.35a3.5 3.5 0 1 0 7 0a3.5 3.5 0 1 0 -7 0z" fill="#00ff00" stroke="#00ff00" stroke-width="0.6"/>
<path d="M59.1 77.5 L94.51 131.9 L119.64 152 L139.13 165 L155.05 169.25 L168.51 181.25 L180.17 187 L190.46 191.3 L199.66 202 L207.99 208 L215.59 211.75 L222.58 212 L229.05 215.75 L235.07 218.25 L240.71 220 L246.01 224.5 L251 225 L255.72 227.5 L260.2 226.75 L264.46 224 L268.52 226.75 L272.41 228 L276.12 229.5 L279.69 232.5 L283.11 231.3 L286.41 231.3 L289.59 231.7 L292.65 229 L295.61 231.2 L298.48 232.05 L301.25 232.68 L303.94 233.29 L306.54 231.83 L309.07 229.97 L311.54 229.68 L313.93 227.22 L316.26 226.16 L318.53 227.66 L320.74 227.85 L322.89 231.39 L325 228.31 L327.05 227.17 L329.06 223.14 L331.02 220.65 L332.94 223.97 L334.82 225.53 L336.66 225.79 L338.46 226.39 L340.23 225.16 L341.96 222.91 L343.65 218.87 L345.31 218.24 L346.95 217.08 L348.55 216.19 L350.12 216.65 L351.67 218.17 L353.19 216.93 L354.68 217.18 L356.15 216.74 L357.59 213.07 L359.01 213.63 L360.41 212.98 L361.79 212.08 L363.14 208.84 L364.47 207.38 L365.79 206.53 L367.08 205.52 L368.36 204.65 L369.61 205.49 L370.85 205.72 L372.07 204.54 L373.28 202.15 L374.47 201.99 L375.64 201.71 L376.79 197.79 L377.94 199.27 L379.06 199.36 L380.18 197.86 L381.27 196.73 L382.36 194.59 L383.43 192.31 L384.49 193.84 L385.54 190.85 L386.57 191.73 L387.59 191.27 L388.6 187.6 L389.6 186.33 L390.59 187.31 L391.56 185.03 L392.53 181.31 L393.48 179.94 L394.42 179.04 L395.36 181.18 L396.28 179.71 L397.2 175.85 L398.1 177.58 L399 177.07 L399.89 174.52 L400.76 171.97 L401.63 171.44 L402.49 168.27 L403.34 166.31 L404.19 168.8 L405.02 165.86 L405.85 163.69 L406.67 163.65 L407.48 159.55 L408.29 159.3 L409.09 156.91 L409.88 152 L410.66 150.95 L411.44 148.83 L412.21 145.57 L412.97 142.2 L413.73 139.03 L414.48 136.87 L415.22 131.7 L415.96 126.43 L416.69 122.62 L417.41 118.7 L418.13 111 L418.84 101.55 L419.55 97.45 L420.25 88.75 L420.95 69.8 L421.64 46.5" fill="none" stroke="#0000ff" stroke-width="0.9" stroke-linejoin="round"/>
<path d="M55.6 77.5a3.5 3.5 0 1 0 7 0a3.5 3.5 0 1 0 -7 0zM91.01 131.9a3.5 3.5 0 1 0 7 0a3.5 3.5 0 1 0 -7 0zM116.14 152a3.5 3.5 0 1 0 7 0a3.5 3.5 0 1 0 -7 0zM135.63 165a3.5 3.5 0 1 0 7 0a3.5 3.5 0 1 0 -7 0zM151.55 169.25a3.5 3.5 0 1 0 7 0a3.5 3.5 0 1 0 -7 0zM165.01 181.25a3.5 3.5 0 1 0 7 0a3.5 3.5 0 1 0 -7 0zM176.67 187a3.5 3.5 0 1 0 7 0a3.5 3.5 0 1 0 -7 0zM186.96 191.3a3.5 3.5 0 1 0 7 0a3.5 3.5 0 1 0 -7 0zM196.16 202a3.5 3.5 0 1 0 7 0a3.5 3.5 0 1 0 -7 0zM204.49 208a3.5 3.5 0 1 0 7 0a3.5 3.5 0 1 0 -7 0zM212.09 211.75a3.5 3.5 0 1 0 7 0a3.5 3.5 0 1 0 -7 0zM219.08 212a3.5 3.5 0 1 0 7 0a3.5 3.5 0 1 0 -7 0zM225.55 215.75a3.5 3.5 0 1 0 7 0a3.5 3.5 0 1 0 -7 0zM231.57 218.25a3.5 3.5 0 1 0 7 0a3.5 3.5 0 1 0 -7 0zM237.21 220a3.5 3.5 0 1 0 7 0a3.5 3.5 0 1 0 -7 0zM242.51 224.5a3.5 3.5 0 1 0 7 0a3.5 3.5 0 1 0 -7 0zM247.5 225a3.5 3.5 0 1 0 7 0a3.5 3.5 0 1 0 -7 0zM252.22 227.5a3.5 3.5 0 1 0 7 0a3.5 3.5 0 1 0 -7 0zM256.7 226.75a3.5 3.5 0 1 0 7 0a3.5 3.5 0 1 0 -7 0zM260.96 224a3.5 3.5 0 1 0 7 0a3.5 3.5 0 1 0 -7 0zM265.02 226.75a3.5 3.5 0 1 0 7 0a3.5 3.5 0 1 0 -7 0zM268.91 228a3.5 3.5 0 1 0 7 0a3.5 3.5 0 1 0 -7 0zM272.62 229.5a3.5 3.5 0 1 0 7 0a3.5 3.5 0 1 0 -7 0zM276.19 232.5a3.5 3.5 0 1 0 7 0a3.5 3.5 0 1 0 -7 0zM279.61 231.3a3.5 3.5 0 1 0 7 0a3.5 3.5 0 1 0 -7 0zM282.91 231.3a3.5 3.5 0 1 0 7 0a3.5 3.5 0 1 0 -7 0zM286.09 231.7a3.5 3.5 0 1 0 7 0a3.5 3.5 0 1 0 -7 0zM289.15 229a3.5 3.5 0 1 0 7 0a3.5 3.5 0 1 0 -7 0zM292.11 231.2a3.5 3.5 0 1 0 7 0a3.5 3.5 0 1 0 -7 0zM294.98 232.05a3.5 3.5 0 1 0 7 0a3.5 3.5 0 1 0 -7 0zM297.75 232.68a3.5 3.5 0 1 0 7 0a3.5 3.5 0 1 0 -7 0zM300.44 233.29a3.5 3.5 0 1 0 7 0a3.5 3.5 0 1 0 -7 0zM303.04 231.83a3.5 3.5 0 1 0 7 0a3.5 3.5 0 1 0 -7 0zM305.57 229.97a3.5 3.5 0 1 0 7 0a3.5 3.5 0 1 0 -7 0zM308.04 229.68a3.5 3.5 0 1 0 7 0a3.5 3.5 0 1 0 -7 0zM310.43 227.22a3.5 3.5 0 1 0 7 0a3.5 3.5 0 1 0 -7 0zM312.76 226.16a3.5 3.5 0 1 0 7 0a3.5 3.5 0 1 0 -7 0zM315.03 227.66a3.5 3.5 0 1 0 7 0a3.5 3.5 0 1 0 -7 0zM317.24 227.85a3.5 3.5 0 1 0 7 0a3.5 3.5 0 1 0 -7 0zM319.39 231.39a3.5 3.5 0 1 0 7 0a3.5 3.5 0 1 0 -7 0zM321.5 228.31a3.5 3.5 0 1 0 7 0a3.5 3.5 0 1 0 -7 0zM323.55 227.17a3.5 3.5 0 1 0 7 0a3.5 3.5 0 1 0 -7 0zM325.56 223.14a3.5 3.5 0 1 0 7 0a3.5 3.5 0 1 0 -7 0zM327.52 220.65a3.5 3.5 0 1 0 7 0a3.5 3.5 0 1 0 -7 0zM329.44 223.97a3.5 3.5 0 1 0 7 0a3.5 3.5 0 1 0 -7 0zM331.32 225.53a3.5 3.5 0 1 0 7 0a3.5 3.5 0 1 0 -7 0zM333.16 225.79a3.5 3.5 0 1 0 7 0a3.5 3.5 0 1 0 -7 0zM334.96 226.39a3.5 3.5 0 1 0 7 0a3.5 3.5 0 1 0 -7 0zM336.73 225.16a3.5 3.5 0 1 0 7 0a3.5 3.5 0 1 0 -7 0zM338.46 222.91a3.5 3.5 0 1 0 7 0a3.5 3.5 0 1 0 -7 0zM340.15 218.87a3.5 3.5 0 1 0 7 0a3.5 3.5 0 1 0 -7 0zM341.81 218.24a3.5 3.5 0 1 0 7 0a3.5 3.5 0 1 0 -7 0zM343.45 217.08a3.5 3.5 0 1 0 7 0a3.5 3.5 0 1 0 -7 0zM345.05 216.19a3.5 3.5 0 1 0 7 0a3.5 3.5 0 1 0 -7 0zM346.62 216.65a3.5 3.5 0 1 0 7 0a3.5 3.5 0 1 0 -7 0zM348.17 218.17a3.5 3.5 0 1 0 7 0a3.5 3.5 0 1 0 -7 0zM349.69 216.93a3.5 3.5 0 1 0 7 0a3.5 3.5 0 1 0 -7 0zM351.18 217.18a3.5 3.5 0 1 0 7 0a3.5 3.5 0 1 0 -7 0zM352.65 216.74a3.5 3.5 0 1 0 7 0a3.5 3.5 0 1 0 -7 0zM354.09 213.07a3.5 3.5 0 1 0 7 0a3.5 3.5 0 1 0 -7 0zM355.51 213.63a3.5 3.5 0 1 0 7 0a3.5 3.5 0 1 0 -7 0zM356.91 212.98a3.5 3.5 0 1 0 7 0a3.5 3.5 0 1 0 -7 0zM358.29 212.08a3.5 3.5 0 1 0 7 0a3.5 3.5 0 1 0 -7 0zM359.64 208.84a3.5 3.5 0 1 0 7 0a3.5 3.5 0 1 0 -7 0zM360.97 207.38a3.5 3.5 0 1 0 7 0a3.5 3.5 0 1 0 -7 0zM362.29 206.53a3.5 3.5 0 1 0 7 0a3.5 3.5 0 1 0 -7 0zM363.58 205.52a3.5 3.5 0 1 0 7 0a3.5 3.5 0 1 0 -7 0zM364.86 204.65a3.5 3.5 0 1 0 7 0a3.5 3.5 0 1 0 -7 0zM366.11 205.49a3.5 3.5 0 1 0 7 0a3.5 3.5 0 1 0 -7 0zM367.35 205.72a3.5 3.5 0 1 0 7 0a3.5 3.5 0 1 0 -7 0zM368.57 204.54a3.5 3.5 0 1 0 7 0a3.5 3.5 0 1 0 -7 0zM369.78 202.15a3.5 3.5 0 1 0 7 0a3.5 3.5 0 1 0 -7 0zM370.97 201.99a3.5 3.5 0 1 0 7 0a3.5 3.5 0 1 0 -7 0zM372.14 201.71a3.5 3.5 0 1 0 7 0a3.5 3.5 0 1 0 -7 0zM373.29 197.79a3.5 3.5 0 1 0 7 0a3.5 3.5 0 1 0 -7 0zM374.44 199.27a3.5 3.5 0 1 0 7 0a3.5 3.5 0 1 0 -7 0zM375.56 199.36a3.5 3.5 0 1 0 7 0a3.5 3.5 0 1 0 -7 0zM376.68 197.86a3.5 3.5 0 1 0 7 0a3.5 3.5 0 1 0 -7 0zM377.77 196.73a3.5 3.5 0 1 0 7 0a3.5 3.5 0 1 0 -7 0zM378.86 194.59a3.5 3.5 0 1 0 7 0a3.5 3.5 0 1 0 -7 0zM379.93 192.31a3.5 3.5 0 1 0 7 0a3.5 3.5 0 1 0 -7 0zM380.99 193.84a3.5 3.5 0 1 0 7 0a3.5 3.5 0 1 0 -7 0zM382.04 190.85a3.5 3.5 0 1 0 7 0a3.5 3.5 0 1 0 -7 0zM383.07 191.73a3.5 3.5 0 1 0 7 0a3.5 3.5 0 1 0 -7 0zM384.09 191.27a3.5 3.5 0 1 0 7 0a3.5 3.5 0 1 0 -7 0zM385.1 187.6a3.5 3.5 0 1 0 7 0a3.5 3.5 0 1 0 -7 0zM386.1 186.33a3.5 3.5 0 1 0 7 0a3.5 3.5 0 1 0 -7 0zM387.09 187.31a3.5 3.5 0 1 0 7 0a3.5 3.5 0 1 0 -7 0zM388.06 185.03a3.5 3.5 0 1 0 7 0a3.5 3.5 0 1 0 -7 0zM389.03 181.31a3.5 3.5 0 1 0 7 0a3.5 3.5 0 1 0 -7 0zM389.98 179.94a3.5 3.5 0 1 0 7 0a3.5 3.5 0 1 0 -7 0zM390.92 179.04a3.5 3.5 0 1 0 7 0a3.5 3.5 0 1 0 -7 0zM391.86 181.18a3.5 3.5 0 1 0 7 0a3.5 3.5 0 1 0 -7 0zM392.78 179.71a3.5 3.5 0 1 0 7 0a3.5 3.5 0 1 0 -7 0zM393.7 175.85a3.5 3.5 0 1 0 7 0a3.5 3.5 0 1 0 -7 0zM394.6 177.58a3.5 3.5 0 1 0 7 0a3.5 3.5 0 1 0 -7 0zM395.5 177.07a3.5 3.5 0 1 0 7 0a3.5 3.5 0 1 0 -7 0zM396.39 174.52a3.5 3.5 0 1 0 7 0a3.5 3.5 0 1 0 -7 0zM397.26 171.97a3.5 3.5 0 1 0 7 0a3.5 3.5 0 1 0 -7 0zM398.13 171.44a3.5 3.5 0 1 0 7 0a3.5 3.5 0 1 0 -7 0zM398.99 168.27a3.5 3.5 0 1 0 7 0a3.5 3.5 0 1 0 -7 0zM399.84 166.31a3.5 3.5 0 1 0 7 0a3.5 3.5 0 1 0 -7 0zM400.69 168.8a3.5 3.5 0 1 0 7 0a3.5 3.5 0 1 0 -7 0zM401.52 165.86a3.5 3.5 0 1 0 7 0a3.5 3.5 0 1 0 -7 0zM402.35 163.69a3.5 3.5 0 1 0 7 0a3.5 3.5 0 1 0 -7 0zM403.17 163.65a3.5 3.5 0 1 0 7 0a3.5 3.5 0 1 0 -7 0zM403.98 159.55a3.5 3.5 0 1 0 7 0a3.5 3.5 0 1 0 -7 0zM404.79 159.3a3.5 3.5 0 1 0 7 0a3.5 3.5 0 1 0 -7 0zM405.59 156.91a3.5 3.5 0 1 0 7 0a3.5 3.5 0 1 0 -7 0zM406.38 152a3.5 3.5 0 1 0 7 0a3.5 3.5 0 1 0 -7 0zM407.16 150.95a3.5 3.5 0 1 0 7 0a3.5 3.5 0 1 0 -7 0zM407.94 148.83a3.5 3.5 0 1 0 7 0a3.5 3.5 0 1 0 -7 0zM408.71 145.57a3.5 3.5 0 1 0 7 0a3.5 3.5 0 1 0 -7 0zM409.47 142.2a3.5 3.5 0 1 0 7 0a3.5 3.5 0 1 0 -7 0zM410.23 139.03a3.5 3.5 0 1 0 7 0a3.5 3.5 0 1 0 -7 0zM410.98 136.87a3.5 3.5 0 1 0 7 0a3.5 3.5 0 1 0 -7 0zM411.72 131.7a3.5 3.5 0 1 0 7 0a3.5 3.5 0 1 0 -7 0zM412.46 126.43a3.5 3.5 0 1 0 7 0a3.5 3.5 0 1 0 -7 0zM413.19 122.62a3.5 3.5 0 1 0 7 0a3.5 3.5 0 1 0 -7 0zM413.91 118.7a3.5 3.5 0 1 0 7 0a3.5 3.5 0 1 0 -7 0zM414.63 111a3.5 3.5 0 1 0 7 0a3.5 3.5 0 1 0 -7 0zM415.34 101.55a3.5 3.5 0 1 0 7 0a3.5 3.5 0 1 0 -7 0zM416.05 97.45a3.5 3.5 0 1 0 7 0a3.5 3.5 0 1 0 -7 0zM416.75 88.75a3.5 3.5 0 1 0 7 0a3.5 3.5 0 1 0 -7 0zM417.45 69.8a3.5 3.5 0 1 0 7 0a3.5 3.5 0 1 0 -7 0zM418.14 46.5a3.5 3.5 0 1 0 7 0a3.5 3.5 0 1 0 -7 0z" fill="#0000ff" stroke="#0000ff" stroke-width="0.6"/>
<path d="M59.1 28.5 L94.51 35 L119.64 40 L139.13 44.49 L155.05 48.67 L168.51 52.19 L180.17 55.24 L190.46 57.91 L199.66 60.3 L207.99 62.45 L215.59 64.4 L222.58 66.19 L229.05 67.84 L235.07 69.36 L240.71 70.78 L246.01 72.1 L251 73.34 L255.72 74.5 L260.2 75.6 L264.46 76.63 L268.52 77.6 L272.41 78.45 L276.12 79.26 L279.69 80.02 L283.11 80.75 L286.41 81.43 L289.59 82.09 L292.65 82.71 L295.61 83.3 L298.48 83.86 L301.25 84.39 L303.94 84.9 L306.54 85.39 L309.07 85.84 L311.54 86.28 L313.93 86.69 L316.26 87.09 L318.53 87.46 L320.74 87.81 L322.89 88.15 L325 88.46 L327.05 88.76 L329.06 89.04 L331.02 89.3 L332.94 89.58 L334.82 89.84 L336.66 90.09 L338.46 90.32 L340.23 90.54 L341.96 90.74 L343.65 90.92 L345.31 91.09 L346.95 91.24 L348.55 91.38 L350.12 91.51 L351.67 91.62 L353.19 91.71 L354.68 91.8 L356.15 91.87 L357.59 91.92 L359.01 91.96 L360.41 91.99 L361.79 92 L363.14 92 L364.47 91.99 L365.79 91.96 L367.08 91.92 L368.36 91.87 L369.61 91.8 L370.85 91.71 L372.07 91.62 L373.28 91.51 L374.47 91.38 L375.64 91.24 L376.79 91.09 L377.94 90.92 L379.06 90.74 L380.18 90.54 L381.27 90.32 L382.36 90.09 L383.43 89.84 L384.49 89.58 L385.54 89.3 L386.57 89.04 L387.59 88.76 L388.6 88.46 L389.6 88.15 L390.59 87.81 L391.56 87.46 L392.53 87.09 L393.48 86.69 L394.42 86.28 L395.36 85.84 L396.28 85.39 L397.2 84.9 L398.1 84.39 L399 83.86 L399.89 83.3 L400.76 82.71 L401.63 82.09 L402.49 81.43 L403.34 80.75 L404.19 80.02 L405.02 79.26 L405.85 78.45 L406.67 77.6 L407.48 76.63 L408.29 75.6 L409.09 74.5 L409.88 73.34 L410.66 72.1 L411.44 70.78 L412.21 69.36 L412.97 67.84 L413.73 66.19 L414.48 64.4 L415.22 62.45 L415.96 60.3 L416.69 57.91 L417.41 55.24 L418.13 52.19 L418.84 48.67 L419.55 44.49 L420.25 41 L420.95 35.9 L421.64 28.7" fill="none" stroke="#000000" stroke-width="0.9" stroke-linejoin="round"/>
<path d="M55.95 28.5h6.3M59.1 25v7M56.72 26.12l4.76 4.76M56.72 30.88l4.76 -4.76M91.36 35h6.3M94.51 31.5v7M92.13 32.62l4.76 4.76M92.13 37.38l4.76 -4.76M116.49 40h6.3M119.64 36.5v7M117.26 37.62l4.76 4.76M117.26 42.38l4.76 -4.76M135.98 44.49h6.3M139.13 40.99v7M136.75 42.11l4.76 4.76M136.75 46.87l4.76 -4.76M151.9 48.67h6.3M155.05 45.17v7M152.67 46.29l4.76 4.76M152.67 51.05l4.76 -4.76M165.36 52.19h6.3M168.51 48.69v7M166.13 49.81l4.76 4.76M166.13 54.57l4.76 -4.76M177.02 55.24h6.3M180.17 51.74v7M177.79 52.86l4.76 4.76M177.79 57.62l4.76 -4.76M187.31 57.91h6.3M190.46 54.41v7M188.08 55.53l4.76 4.76M188.08 60.29l4.76 -4.76M196.51 60.3h6.3M199.66 56.8v7M197.28 57.92l4.76 4.76M197.28 62.68l4.76 -4.76M204.84 62.45h6.3M207.99 58.95v7M205.61 60.07l4.76 4.76M205.61 64.83l4.76 -4.76M212.44 64.4h6.3M215.59 60.9v7M213.21 62.02l4.76 4.76M213.21 66.78l4.76 -4.76M219.43 66.19h6.3M222.58 62.69v7M220.2 63.81l4.76 4.76M220.2 68.57l4.76 -4.76M225.9 67.84h6.3M229.05 64.34v7M226.67 65.46l4.76 4.76M226.67 70.22l4.76 -4.76M231.92 69.36h6.3M235.07 65.86v7M232.69 66.98l4.76 4.76M232.69 71.74l4.76 -4.76M237.56 70.78h6.3M240.71 67.28v7M238.33 68.4l4.76 4.76M238.33 73.16l4.76 -4.76M242.86 72.1h6.3M246.01 68.6v7M243.63 69.72l4.76 4.76M243.63 74.48l4.76 -4.76M247.85 73.34h6.3M251 69.84v7M248.62 70.96l4.76 4.76M248.62 75.72l4.76 -4.76M252.57 74.5h6.3M255.72 71v7M253.34 72.12l4.76 4.76M253.34 76.88l4.76 -4.76M257.05 75.6h6.3M260.2 72.1v7M257.82 73.22l4.76 4.76M257.82 77.98l4.76 -4.76M261.31 76.63h6.3M264.46 73.13v7M262.08 74.25l4.76 4.76M262.08 79.01l4.76 -4.76M265.37 77.6h6.3M268.52 74.1v7M266.14 75.22l4.76 4.76M266.14 79.98l4.76 -4.76M269.26 78.45h6.3M272.41 74.95v7M270.03 76.07l4.76 4.76M270.03 80.83l4.76 -4.76M272.97 79.26h6.3M276.12 75.76v7M273.74 76.88l4.76 4.76M273.74 81.64l4.76 -4.76M276.54 80.02h6.3M279.69 76.52v7M277.31 77.64l4.76 4.76M277.31 82.4l4.76 -4.76M279.96 80.75h6.3M283.11 77.25v7M280.73 78.37l4.76 4.76M280.73 83.13l4.76 -4.76M283.26 81.43h6.3M286.41 77.93v7M284.03 79.05l4.76 4.76M284.03 83.81l4.76 -4.76M286.44 82.09h6.3M289.59 78.59v7M287.21 79.71l4.76 4.76M287.21 84.47l4.76 -4.76M289.5 82.71h6.3M292.65 79.21v7M290.27 80.33l4.76 4.76M290.27 85.09l4.76 -4.76M292.46 83.3h6.3M295.61 79.8v7M293.23 80.92l4.76 4.76M293.23 85.68l4.76 -4.76M295.33 83.86h6.3M298.48 80.36v7M296.1 81.48l4.76 4.76M296.1 86.24l4.76 -4.76M298.1 84.39h6.3M301.25 80.89v7M298.87 82.01l4.76 4.76M298.87 86.77l4.76 -4.76M300.79 84.9h6.3M303.94 81.4v7M301.56 82.52l4.76 4.76M301.56 87.28l4.76 -4.76M303.39 85.39h6.3M306.54 81.89v7M304.16 83.01l4.76 4.76M304.16 87.77l4.76 -4.76M305.92 85.84h6.3M309.07 82.34v7M306.69 83.46l4.76 4.76M306.69 88.22l4.76 -4.76M308.39 86.28h6.3M311.54 82.78v7M309.16 83.9l4.76 4.76M309.16 88.66l4.76 -4.76M310.78 86.69h6.3M313.93 83.19v7M311.55 84.31l4.76 4.76M311.55 89.07l4.76 -4.76M313.11 87.09h6.3M316.26 83.59v7M313.88 84.71l4.76 4.76M313.88 89.47l4.76 -4.76M315.38 87.46h6.3M318.53 83.96v7M316.15 85.08l4.76 4.76M316.15 89.84l4.76 -4.76M317.59 87.81h6.3M320.74 84.31v7M318.36 85.43l4.76 4.76M318.36 90.19l4.76 -4.76M319.74 88.15h6.3M322.89 84.65v7M320.51 85.77l4.76 4.76M320.51 90.53l4.76 -4.76M321.85 88.46h6.3M325 84.96v7M322.62 86.08l4.76 4.76M322.62 90.84l4.76 -4.76M323.9 88.76h6.3M327.05 85.26v7M324.67 86.38l4.76 4.76M324.67 91.14l4.76 -4.76M325.91 89.04h6.3M329.06 85.54v7M326.68 86.66l4.76 4.76M326.68 91.42l4.76 -4.76M327.87 89.3h6.3M331.02 85.8v7M328.64 86.92l4.76 4.76M328.64 91.68l4.76 -4.76M329.79 89.58h6.3M332.94 86.08v7M330.56 87.2l4.76 4.76M330.56 91.96l4.76 -4.76M331.67 89.84h6.3M334.82 86.34v7M332.44 87.46l4.76 4.76M332.44 92.22l4.76 -4.76M333.51 90.09h6.3M336.66 86.59v7M334.28 87.71l4.76 4.76M334.28 92.47l4.76 -4.76M335.31 90.32h6.3M338.46 86.82v7M336.08 87.94l4.76 4.76M336.08 92.7l4.76 -4.76M337.08 90.54h6.3M340.23 87.04v7M337.85 88.16l4.76 4.76M337.85 92.92l4.76 -4.76M338.81 90.74h6.3M341.96 87.24v7M339.58 88.36l4.76 4.76M339.58 93.12l4.76 -4.76M340.5 90.92h6.3M343.65 87.42v7M341.27 88.54l4.76 4.76M341.27 93.3l4.76 -4.76M342.16 91.09h6.3M345.31 87.59v7M342.93 88.71l4.76 4.76M342.93 93.47l4.76 -4.76M343.8 91.24h6.3M346.95 87.74v7M344.57 88.86l4.76 4.76M344.57 93.62l4.76 -4.76M345.4 91.38h6.3M348.55 87.88v7M346.17 89l4.76 4.76M346.17 93.76l4.76 -4.76M346.97 91.51h6.3M350.12 88.01v7M347.74 89.13l4.76 4.76M347.74 93.89l4.76 -4.76M348.52 91.62h6.3M351.67 88.12v7M349.29 89.24l4.76 4.76M349.29 94l4.76 -4.76M350.04 91.71h6.3M353.19 88.21v7M350.81 89.33l4.76 4.76M350.81 94.09l4.76 -4.76M351.53 91.8h6.3M354.68 88.3v7M352.3 89.42l4.76 4.76M352.3 94.18l4.76 -4.76M353 91.87h6.3M356.15 88.37v7M353.77 89.49l4.76 4.76M353.77 94.25l4.76 -4.76M354.44 91.92h6.3M357.59 88.42v7M355.21 89.54l4.76 4.76M355.21 94.3l4.76 -4.76M355.86 91.96h6.3M359.01 88.46v7M356.63 89.58l4.76 4.76M356.63 94.34l4.76 -4.76M357.26 91.99h6.3M360.41 88.49v7M358.03 89.61l4.76 4.76M358.03 94.37l4.76 -4.76M358.64 92h6.3M361.79 88.5v7M359.41 89.62l4.76 4.76M359.41 94.38l4.76 -4.76M359.99 92h6.3M363.14 88.5v7M360.76 89.62l4.76 4.76M360.76 94.38l4.76 -4.76M361.32 91.99h6.3M364.47 88.49v7M362.09 89.61l4.76 4.76M362.09 94.37l4.76 -4.76M362.64 91.96h6.3M365.79 88.46v7M363.41 89.58l4.76 4.76M363.41 94.34l4.76 -4.76M363.93 91.92h6.3M367.08 88.42v7M364.7 89.54l4.76 4.76M364.7 94.3l4.76 -4.76M365.21 91.87h6.3M368.36 88.37v7M365.98 89.49l4.76 4.76M365.98 94.25l4.76 -4.76M366.46 91.8h6.3M369.61 88.3v7M367.23 89.42l4.76 4.76M367.23 94.18l4.76 -4.76M367.7 91.71h6.3M370.85 88.21v7M368.47 89.33l4.76 4.76M368.47 94.09l4.76 -4.76M368.92 91.62h6.3M372.07 88.12v7M369.69 89.24l4.76 4.76M369.69 94l4.76 -4.76M370.13 91.51h6.3M373.28 88.01v7M370.9 89.13l4.76 4.76M370.9 93.89l4.76 -4.76M371.32 91.38h6.3M374.47 87.88v7M372.09 89l4.76 4.76M372.09 93.76l4.76 -4.76M372.49 91.24h6.3M375.64 87.74v7M373.26 88.86l4.76 4.76M373.26 93.62l4.76 -4.76M373.64 91.09h6.3M376.79 87.59v7M374.41 88.71l4.76 4.76M374.41 93.47l4.76 -4.76M374.79 90.92h6.3M377.94 87.42v7M375.56 88.54l4.76 4.76M375.56 93.3l4.76 -4.76M375.91 90.74h6.3M379.06 87.24v7M376.68 88.36l4.76 4.76M376.68 93.12l4.76 -4.76M377.03 90.54h6.3M380.18 87.04v7M377.8 88.16l4.76 4.76M377.8 92.92l4.76 -4.76M378.12 90.32h6.3M381.27 86.82v7M378.89 87.94l4.76 4.76M378.89 92.7l4.76 -4.76M379.21 90.09h6.3M382.36 86.59v7M379.98 87.71l4.76 4.76M379.98 92.47l4.76 -4.76M380.28 89.84h6.3M383.43 86.34v7M381.05 87.46l4.76 4.76M381.05 92.22l4.76 -4.76M381.34 89.58h6.3M384.49 86.08v7M382.11 87.2l4.76 4.76M382.11 91.96l4.76 -4.76M382.39 89.3h6.3M385.54 85.8v7M383.16 86.92l4.76 4.76M383.16 91.68l4.76 -4.76M383.42 89.04h6.3M386.57 85.54v7M384.19 86.66l4.76 4.76M384.19 91.42l4.76 -4.76M384.44 88.76h6.3M387.59 85.26v7M385.21 86.38l4.76 4.76M385.21 91.14l4.76 -4.76M385.45 88.46h6.3M388.6 84.96v7M386.22 86.08l4.76 4.76M386.22 90.84l4.76 -4.76M386.45 88.15h6.3M389.6 84.65v7M387.22 85.77l4.76 4.76M387.22 90.53l4.76 -4.76M387.44 87.81h6.3M390.59 84.31v7M388.21 85.43l4.76 4.76M388.21 90.19l4.76 -4.76M388.41 87.46h6.3M391.56 83.96v7M389.18 85.08l4.76 4.76M389.18 89.84l4.76 -4.76M389.38 87.09h6.3M392.53 83.59v7M390.15 84.71l4.76 4.76M390.15 89.47l4.76 -4.76M390.33 86.69h6.3M393.48 83.19v7M391.1 84.31l4.76 4.76M391.1 89.07l4.76 -4.76M391.27 86.28h6.3M394.42 82.78v7M392.04 83.9l4.76 4.76M392.04 88.66l4.76 -4.76M392.21 85.84h6.3M395.36 82.34v7M392.98 83.46l4.76 4.76M392.98 88.22l4.76 -4.76M393.13 85.39h6.3M396.28 81.89v7M393.9 83.01l4.76 4.76M393.9 87.77l4.76 -4.76M394.05 84.9h6.3M397.2 81.4v7M394.82 82.52l4.76 4.76M394.82 87.28l4.76 -4.76M394.95 84.39h6.3M398.1 80.89v7M395.72 82.01l4.76 4.76M395.72 86.77l4.76 -4.76M395.85 83.86h6.3M399 80.36v7M396.62 81.48l4.76 4.76M396.62 86.24l4.76 -4.76M396.74 83.3h6.3M399.89 79.8v7M397.51 80.92l4.76 4.76M397.51 85.68l4.76 -4.76M397.61 82.71h6.3M400.76 79.21v7M398.38 80.33l4.76 4.76M398.38 85.09l4.76 -4.76M398.48 82.09h6.3M401.63 78.59v7M399.25 79.71l4.76 4.76M399.25 84.47l4.76 -4.76M399.34 81.43h6.3M402.49 77.93v7M400.11 79.05l4.76 4.76M400.11 83.81l4.76 -4.76M400.19 80.75h6.3M403.34 77.25v7M400.96 78.37l4.76 4.76M400.96 83.13l4.76 -4.76M401.04 80.02h6.3M404.19 76.52v7M401.81 77.64l4.76 4.76M401.81 82.4l4.76 -4.76M401.87 79.26h6.3M405.02 75.76v7M402.64 76.88l4.76 4.76M402.64 81.64l4.76 -4.76M402.7 78.45h6.3M405.85 74.95v7M403.47 76.07l4.76 4.76M403.47 80.83l4.76 -4.76M403.52 77.6h6.3M406.67 74.1v7M404.29 75.22l4.76 4.76M404.29 79.98l4.76 -4.76M404.33 76.63h6.3M407.48 73.13v7M405.1 74.25l4.76 4.76M405.1 79.01l4.76 -4.76M405.14 75.6h6.3M408.29 72.1v7M405.91 73.22l4.76 4.76M405.91 77.98l4.76 -4.76M405.94 74.5h6.3M409.09 71v7M406.71 72.12l4.76 4.76M406.71 76.88l4.76 -4.76M406.73 73.34h6.3M409.88 69.84v7M407.5 70.96l4.76 4.76M407.5 75.72l4.76 -4.76M407.51 72.1h6.3M410.66 68.6v7M408.28 69.72l4.76 4.76M408.28 74.48l4.76 -4.76M408.29 70.78h6.3M411.44 67.28v7M409.06 68.4l4.76 4.76M409.06 73.16l4.76 -4.76M409.06 69.36h6.3M412.21 65.86v7M409.83 66.98l4.76 4.76M409.83 71.74l4.76 -4.76M409.82 67.84h6.3M412.97 64.34v7M410.59 65.46l4.76 4.76M410.59 70.22l4.76 -4.76M410.58 66.19h6.3M413.73 62.69v7M411.35 63.81l4.76 4.76M411.35 68.57l4.76 -4.76M411.33 64.4h6.3M414.48 60.9v7M412.1 62.02l4.76 4.76M412.1 66.78l4.76 -4.76M412.07 62.45h6.3M415.22 58.95v7M412.84 60.07l4.76 4.76M412.84 64.83l4.76 -4.76M412.81 60.3h6.3M415.96 56.8v7M413.58 57.92l4.76 4.76M413.58 62.68l4.76 -4.76M413.54 57.91h6.3M416.69 54.41v7M414.31 55.53l4.76 4.76M414.31 60.29l4.76 -4.76M414.26 55.24h6.3M417.41 51.74v7M415.03 52.86l4.76 4.76M415.03 57.62l4.76 -4.76M414.98 52.19h6.3M418.13 48.69v7M415.75 49.81l4.76 4.76M415.75 54.57l4.76 -4.76M415.69 48.67h6.3M418.84 45.17v7M416.46 46.29l4.76 4.76M416.46 51.05l4.76 -4.76M416.4 44.49h6.3M419.55 40.99v7M417.17 42.11l4.76 4.76M417.17 46.87l4.76 -4.76M417.1 41h6.3M420.25 37.5v7M417.87 38.62l4.76 4.76M417.87 43.38l4.76 -4.76M417.8 35.9h6.3M420.95 32.4v7M418.57 33.52l4.76 4.76M418.57 38.28l4.76 -4.76M418.49 28.7h6.3M421.64 25.2v7M419.26 26.32l4.76 4.76M419.26 31.08l4.76 -4.76" fill="none" stroke="#000000" stroke-width="0.95"/>
<path d="M59.1 18.4 L94.51 32.8 L119.64 39.6 L139.13 44.59 L155.05 48.77 L168.51 52.29 L180.17 55.34 L190.46 58.01 L199.66 60.4 L207.99 62.55 L215.59 64.5 L222.58 66.29 L229.05 67.94 L235.07 69.46 L240.71 70.88 L246.01 72.2 L251 73.44 L255.72 74.6 L260.2 75.7 L264.46 76.73 L268.52 77.7 L272.41 78.55 L276.12 79.36 L279.69 80.12 L283.11 80.85 L286.41 81.53 L289.59 82.19 L292.65 82.81 L295.61 83.4 L298.48 83.96 L301.25 84.49 L303.94 85 L306.54 85.49 L309.07 85.94 L311.54 86.38 L313.93 86.79 L316.26 87.19 L318.53 87.56 L320.74 87.91 L322.89 88.25 L325 88.56 L327.05 88.86 L329.06 89.14 L331.02 89.4 L332.94 89.68 L334.82 89.94 L336.66 90.19 L338.46 90.42 L340.23 90.64 L341.96 90.84 L343.65 91.02 L345.31 91.19 L346.95 91.34 L348.55 91.48 L350.12 91.61 L351.67 91.72 L353.19 91.81 L354.68 91.9 L356.15 91.97 L357.59 92.02 L359.01 92.06 L360.41 92.09 L361.79 92.1 L363.14 92.1 L364.47 92.09 L365.79 92.06 L367.08 92.02 L368.36 91.97 L369.61 91.9 L370.85 91.81 L372.07 91.72 L373.28 91.61 L374.47 91.48 L375.64 91.34 L376.79 91.19 L377.94 91.02 L379.06 90.84 L380.18 90.64 L381.27 90.42 L382.36 90.19 L383.43 89.94 L384.49 89.68 L385.54 89.4 L386.57 89.14 L387.59 88.86 L388.6 88.56 L389.6 88.25 L390.59 87.91 L391.56 87.56 L392.53 87.19 L393.48 86.79 L394.42 86.38 L395.36 85.94 L396.28 85.49 L397.2 85 L398.1 84.49 L399 83.96 L399.89 83.4 L400.76 82.81 L401.63 82.19 L402.49 81.53 L403.34 80.85 L404.19 80.12 L405.02 79.36 L405.85 78.55 L406.67 77.7 L407.48 76.73 L408.29 75.7 L409.09 74.6 L409.88 73.44 L410.66 72.2 L411.44 70.88 L412.21 69.46 L412.97 67.94 L413.73 66.29 L414.48 64.5 L415.22 62.55 L415.96 60.4 L416.69 58.01 L417.41 55.34 L418.13 52.29 L418.84 48.77 L419.55 44.59 L420.25 41 L420.95 35.9 L421.64 28.7" fill="none" stroke="#ff0000" stroke-width="0.9" stroke-linejoin="round"/>
<path d="M55.95 18.4h6.3M59.1 14.9v7M56.72 16.02l4.76 4.76M56.72 20.78l4.76 -4.76M91.36 32.8h6.3M94.51 29.3v7M92.13 30.42l4.76 4.76M92.13 35.18l4.76 -4.76M116.49 39.6h6.3M119.64 36.1v7M117.26 37.22l4.76 4.76M117.26 41.98l4.76 -4.76M135.98 44.59h6.3M139.13 41.09v7M136.75 42.21l4.76 4.76M136.75 46.97l4.76 -4.76M151.9 48.77h6.3M155.05 45.27v7M152.67 46.39l4.76 4.76M152.67 51.15l4.76 -4.76M165.36 52.29h6.3M168.51 48.79v7M166.13 49.91l4.76 4.76M166.13 54.67l4.76 -4.76M177.02 55.34h6.3M180.17 51.84v7M177.79 52.96l4.76 4.76M177.79 57.72l4.76 -4.76M187.31 58.01h6.3M190.46 54.51v7M188.08 55.63l4.76 4.76M188.08 60.39l4.76 -4.76M196.51 60.4h6.3M199.66 56.9v7M197.28 58.02l4.76 4.76M197.28 62.78l4.76 -4.76M204.84 62.55h6.3M207.99 59.05v7M205.61 60.17l4.76 4.76M205.61 64.93l4.76 -4.76M212.44 64.5h6.3M215.59 61v7M213.21 62.12l4.76 4.76M213.21 66.88l4.76 -4.76M219.43 66.29h6.3M222.58 62.79v7M220.2 63.91l4.76 4.76M220.2 68.67l4.76 -4.76M225.9 67.94h6.3M229.05 64.44v7M226.67 65.56l4.76 4.76M226.67 70.32l4.76 -4.76M231.92 69.46h6.3M235.07 65.96v7M232.69 67.08l4.76 4.76M232.69 71.84l4.76 -4.76M237.56 70.88h6.3M240.71 67.38v7M238.33 68.5l4.76 4.76M238.33 73.26l4.76 -4.76M242.86 72.2h6.3M246.01 68.7v7M243.63 69.82l4.76 4.76M243.63 74.58l4.76 -4.76M247.85 73.44h6.3M251 69.94v7M248.62 71.06l4.76 4.76M248.62 75.82l4.76 -4.76M252.57 74.6h6.3M255.72 71.1v7M253.34 72.22l4.76 4.76M253.34 76.98l4.76 -4.76M257.05 75.7h6.3M260.2 72.2v7M257.82 73.32l4.76 4.76M257.82 78.08l4.76 -4.76M261.31 76.73h6.3M264.46 73.23v7M262.08 74.35l4.76 4.76M262.08 79.11l4.76 -4.76M265.37 77.7h6.3M268.52 74.2v7M266.14 75.32l4.76 4.76M266.14 80.08l4.76 -4.76M269.26 78.55h6.3M272.41 75.05v7M270.03 76.17l4.76 4.76M270.03 80.93l4.76 -4.76M272.97 79.36h6.3M276.12 75.86v7M273.74 76.98l4.76 4.76M273.74 81.74l4.76 -4.76M276.54 80.12h6.3M279.69 76.62v7M277.31 77.74l4.76 4.76M277.31 82.5l4.76 -4.76M279.96 80.85h6.3M283.11 77.35v7M280.73 78.47l4.76 4.76M280.73 83.23l4.76 -4.76M283.26 81.53h6.3M286.41 78.03v7M284.03 79.15l4.76 4.76M284.03 83.91l4.76 -4.76M286.44 82.19h6.3M289.59 78.69v7M287.21 79.81l4.76 4.76M287.21 84.57l4.76 -4.76M289.5 82.81h6.3M292.65 79.31v7M290.27 80.43l4.76 4.76M290.27 85.19l4.76 -4.76M292.46 83.4h6.3M295.61 79.9v7M293.23 81.02l4.76 4.76M293.23 85.78l4.76 -4.76M295.33 83.96h6.3M298.48 80.46v7M296.1 81.58l4.76 4.76M296.1 86.34l4.76 -4.76M298.1 84.49h6.3M301.25 80.99v7M298.87 82.11l4.76 4.76M298.87 86.87l4.76 -4.76M300.79 85h6.3M303.94 81.5v7M301.56 82.62l4.76 4.76M301.56 87.38l4.76 -4.76M303.39 85.49h6.3M306.54 81.99v7M304.16 83.11l4.76 4.76M304.16 87.87l4.76 -4.76M305.92 85.94h6.3M309.07 82.44v7M306.69 83.56l4.76 4.76M306.69 88.32l4.76 -4.76M308.39 86.38h6.3M311.54 82.88v7M309.16 84l4.76 4.76M309.16 88.76l4.76 -4.76M310.78 86.79h6.3M313.93 83.29v7M311.55 84.41l4.76 4.76M311.55 89.17l4.76 -4.76M313.11 87.19h6.3M316.26 83.69v7M313.88 84.81l4.76 4.76M313.88 89.57l4.76 -4.76M315.38 87.56h6.3M318.53 84.06v7M316.15 85.18l4.76 4.76M316.15 89.94l4.76 -4.76M317.59 87.91h6.3M320.74 84.41v7M318.36 85.53l4.76 4.76M318.36 90.29l4.76 -4.76M319.74 88.25h6.3M322.89 84.75v7M320.51 85.87l4.76 4.76M320.51 90.63l4.76 -4.76M321.85 88.56h6.3M325 85.06v7M322.62 86.18l4.76 4.76M322.62 90.94l4.76 -4.76M323.9 88.86h6.3M327.05 85.36v7M324.67 86.48l4.76 4.76M324.67 91.24l4.76 -4.76M325.91 89.14h6.3M329.06 85.64v7M326.68 86.76l4.76 4.76M326.68 91.52l4.76 -4.76M327.87 89.4h6.3M331.02 85.9v7M328.64 87.02l4.76 4.76M328.64 91.78l4.76 -4.76M329.79 89.68h6.3M332.94 86.18v7M330.56 87.3l4.76 4.76M330.56 92.06l4.76 -4.76M331.67 89.94h6.3M334.82 86.44v7M332.44 87.56l4.76 4.76M332.44 92.32l4.76 -4.76M333.51 90.19h6.3M336.66 86.69v7M334.28 87.81l4.76 4.76M334.28 92.57l4.76 -4.76M335.31 90.42h6.3M338.46 86.92v7M336.08 88.04l4.76 4.76M336.08 92.8l4.76 -4.76M337.08 90.64h6.3M340.23 87.14v7M337.85 88.26l4.76 4.76M337.85 93.02l4.76 -4.76M338.81 90.84h6.3M341.96 87.34v7M339.58 88.46l4.76 4.76M339.58 93.22l4.76 -4.76M340.5 91.02h6.3M343.65 87.52v7M341.27 88.64l4.76 4.76M341.27 93.4l4.76 -4.76M342.16 91.19h6.3M345.31 87.69v7M342.93 88.81l4.76 4.76M342.93 93.57l4.76 -4.76M343.8 91.34h6.3M346.95 87.84v7M344.57 88.96l4.76 4.76M344.57 93.72l4.76 -4.76M345.4 91.48h6.3M348.55 87.98v7M346.17 89.1l4.76 4.76M346.17 93.86l4.76 -4.76M346.97 91.61h6.3M350.12 88.11v7M347.74 89.23l4.76 4.76M347.74 93.99l4.76 -4.76M348.52 91.72h6.3M351.67 88.22v7M349.29 89.34l4.76 4.76M349.29 94.1l4.76 -4.76M350.04 91.81h6.3M353.19 88.31v7M350.81 89.43l4.76 4.76M350.81 94.19l4.76 -4.76M351.53 91.9h6.3M354.68 88.4v7M352.3 89.52l4.76 4.76M352.3 94.28l4.76 -4.76M353 91.97h6.3M356.15 88.47v7M353.77 89.59l4.76 4.76M353.77 94.35l4.76 -4.76M354.44 92.02h6.3M357.59 88.52v7M355.21 89.64l4.76 4.76M355.21 94.4l4.76 -4.76M355.86 92.06h6.3M359.01 88.56v7M356.63 89.68l4.76 4.76M356.63 94.44l4.76 -4.76M357.26 92.09h6.3M360.41 88.59v7M358.03 89.71l4.76 4.76M358.03 94.47l4.76 -4.76M358.64 92.1h6.3M361.79 88.6v7M359.41 89.72l4.76 4.76M359.41 94.48l4.76 -4.76M359.99 92.1h6.3M363.14 88.6v7M360.76 89.72l4.76 4.76M360.76 94.48l4.76 -4.76M361.32 92.09h6.3M364.47 88.59v7M362.09 89.71l4.76 4.76M362.09 94.47l4.76 -4.76M362.64 92.06h6.3M365.79 88.56v7M363.41 89.68l4.76 4.76M363.41 94.44l4.76 -4.76M363.93 92.02h6.3M367.08 88.52v7M364.7 89.64l4.76 4.76M364.7 94.4l4.76 -4.76M365.21 91.97h6.3M368.36 88.47v7M365.98 89.59l4.76 4.76M365.98 94.35l4.76 -4.76M366.46 91.9h6.3M369.61 88.4v7M367.23 89.52l4.76 4.76M367.23 94.28l4.76 -4.76M367.7 91.81h6.3M370.85 88.31v7M368.47 89.43l4.76 4.76M368.47 94.19l4.76 -4.76M368.92 91.72h6.3M372.07 88.22v7M369.69 89.34l4.76 4.76M369.69 94.1l4.76 -4.76M370.13 91.61h6.3M373.28 88.11v7M370.9 89.23l4.76 4.76M370.9 93.99l4.76 -4.76M371.32 91.48h6.3M374.47 87.98v7M372.09 89.1l4.76 4.76M372.09 93.86l4.76 -4.76M372.49 91.34h6.3M375.64 87.84v7M373.26 88.96l4.76 4.76M373.26 93.72l4.76 -4.76M373.64 91.19h6.3M376.79 87.69v7M374.41 88.81l4.76 4.76M374.41 93.57l4.76 -4.76M374.79 91.02h6.3M377.94 87.52v7M375.56 88.64l4.76 4.76M375.56 93.4l4.76 -4.76M375.91 90.84h6.3M379.06 87.34v7M376.68 88.46l4.76 4.76M376.68 93.22l4.76 -4.76M377.03 90.64h6.3M380.18 87.14v7M377.8 88.26l4.76 4.76M377.8 93.02l4.76 -4.76M378.12 90.42h6.3M381.27 86.92v7M378.89 88.04l4.76 4.76M378.89 92.8l4.76 -4.76M379.21 90.19h6.3M382.36 86.69v7M379.98 87.81l4.76 4.76M379.98 92.57l4.76 -4.76M380.28 89.94h6.3M383.43 86.44v7M381.05 87.56l4.76 4.76M381.05 92.32l4.76 -4.76M381.34 89.68h6.3M384.49 86.18v7M382.11 87.3l4.76 4.76M382.11 92.06l4.76 -4.76M382.39 89.4h6.3M385.54 85.9v7M383.16 87.02l4.76 4.76M383.16 91.78l4.76 -4.76M383.42 89.14h6.3M386.57 85.64v7M384.19 86.76l4.76 4.76M384.19 91.52l4.76 -4.76M384.44 88.86h6.3M387.59 85.36v7M385.21 86.48l4.76 4.76M385.21 91.24l4.76 -4.76M385.45 88.56h6.3M388.6 85.06v7M386.22 86.18l4.76 4.76M386.22 90.94l4.76 -4.76M386.45 88.25h6.3M389.6 84.75v7M387.22 85.87l4.76 4.76M387.22 90.63l4.76 -4.76M387.44 87.91h6.3M390.59 84.41v7M388.21 85.53l4.76 4.76M388.21 90.29l4.76 -4.76M388.41 87.56h6.3M391.56 84.06v7M389.18 85.18l4.76 4.76M389.18 89.94l4.76 -4.76M389.38 87.19h6.3M392.53 83.69v7M390.15 84.81l4.76 4.76M390.15 89.57l4.76 -4.76M390.33 86.79h6.3M393.48 83.29v7M391.1 84.41l4.76 4.76M391.1 89.17l4.76 -4.76M391.27 86.38h6.3M394.42 82.88v7M392.04 84l4.76 4.76M392.04 88.76l4.76 -4.76M392.21 85.94h6.3M395.36 82.44v7M392.98 83.56l4.76 4.76M392.98 88.32l4.76 -4.76M393.13 85.49h6.3M396.28 81.99v7M393.9 83.11l4.76 4.76M393.9 87.87l4.76 -4.76M394.05 85h6.3M397.2 81.5v7M394.82 82.62l4.76 4.76M394.82 87.38l4.76 -4.76M394.95 84.49h6.3M398.1 80.99v7M395.72 82.11l4.76 4.76M395.72 86.87l4.76 -4.76M395.85 83.96h6.3M399 80.46v7M396.62 81.58l4.76 4.76M396.62 86.34l4.76 -4.76M396.74 83.4h6.3M399.89 79.9v7M397.51 81.02l4.76 4.76M397.51 85.78l4.76 -4.76M397.61 82.81h6.3M400.76 79.31v7M398.38 80.43l4.76 4.76M398.38 85.19l4.76 -4.76M398.48 82.19h6.3M401.63 78.69v7M399.25 79.81l4.76 4.76M399.25 84.57l4.76 -4.76M399.34 81.53h6.3M402.49 78.03v7M400.11 79.15l4.76 4.76M400.11 83.91l4.76 -4.76M400.19 80.85h6.3M403.34 77.35v7M400.96 78.47l4.76 4.76M400.96 83.23l4.76 -4.76M401.04 80.12h6.3M404.19 76.62v7M401.81 77.74l4.76 4.76M401.81 82.5l4.76 -4.76M401.87 79.36h6.3M405.02 75.86v7M402.64 76.98l4.76 4.76M402.64 81.74l4.76 -4.76M402.7 78.55h6.3M405.85 75.05v7M403.47 76.17l4.76 4.76M403.47 80.93l4.76 -4.76M403.52 77.7h6.3M406.67 74.2v7M404.29 75.32l4.76 4.76M404.29 80.08l4.76 -4.76M404.33 76.73h6.3M407.48 73.23v7M405.1 74.35l4.76 4.76M405.1 79.11l4.76 -4.76M405.14 75.7h6.3M408.29 72.2v7M405.91 73.32l4.76 4.76M405.91 78.08l4.76 -4.76M405.94 74.6h6.3M409.09 71.1v7M406.71 72.22l4.76 4.76M406.71 76.98l4.76 -4.76M406.73 73.44h6.3M409.88 69.94v7M407.5 71.06l4.76 4.76M407.5 75.82l4.76 -4.76M407.51 72.2h6.3M410.66 68.7v7M408.28 69.82l4.76 4.76M408.28 74.58l4.76 -4.76M408.29 70.88h6.3M411.44 67.38v7M409.06 68.5l4.76 4.76M409.06 73.26l4.76 -4.76M409.06 69.46h6.3M412.21 65.96v7M409.83 67.08l4.76 4.76M409.83 71.84l4.76 -4.76M409.82 67.94h6.3M412.97 64.44v7M410.59 65.56l4.76 4.76M410.59 70.32l4.76 -4.76M410.58 66.29h6.3M413.73 62.79v7M411.35 63.91l4.76 4.76M411.35 68.67l4.76 -4.76M411.33 64.5h6.3M414.48 61v7M412.1 62.12l4.76 4.76M412.1 66.88l4.76 -4.76M412.07 62.55h6.3M415.22 59.05v7M412.84 60.17l4.76 4.76M412.84 64.93l4.76 -4.76M412.81 60.4h6.3M415.96 56.9v7M413.58 58.02l4.76 4.76M413.58 62.78l4.76 -4.76M413.54 58.01h6.3M416.69 54.51v7M414.31 55.63l4.76 4.76M414.31 60.39l4.76 -4.76M414.26 55.34h6.3M417.41 51.84v7M415.03 52.96l4.76 4.76M415.03 57.72l4.76 -4.76M414.98 52.29h6.3M418.13 48.79v7M415.75 49.91l4.76 4.76M415.75 54.67l4.76 -4.76M415.69 48.77h6.3M418.84 45.27v7M416.46 46.39l4.76 4.76M416.46 51.15l4.76 -4.76M416.4 44.59h6.3M419.55 41.09v7M417.17 42.21l4.76 4.76M417.17 46.97l4.76 -4.76M417.1 41h6.3M420.25 37.5v7M417.87 38.62l4.76 4.76M417.87 43.38l4.76 -4.76M417.8 35.9h6.3M420.95 32.4v7M418.57 33.52l4.76 4.76M418.57 38.28l4.76 -4.76M418.49 28.7h6.3M421.64 25.2v7M419.26 26.32l4.76 4.76M419.26 31.08l4.76 -4.76" fill="none" stroke="#ff0000" stroke-width="0.95"/>
<path d="M59.1 13.8 L94.51 32.6 L119.64 39.5 L139.13 44.79 L155.05 48.97 L168.51 52.49 L180.17 55.54 L190.46 58.21 L199.66 60.6 L207.99 62.75 L215.59 64.7 L222.58 66.49 L229.05 68.14 L235.07 69.66 L240.71 71.08 L246.01 72.4 L251 73.64 L255.72 74.8 L260.2 75.9 L264.46 76.93 L268.52 77.9 L272.41 78.75 L276.12 79.56 L279.69 80.32 L283.11 81.05 L286.41 81.73 L289.59 82.39 L292.65 83.01 L295.61 83.6 L298.48 84.16 L301.25 84.69 L303.94 85.2 L306.54 85.69 L309.07 86.14 L311.54 86.58 L313.93 86.99 L316.26 87.39 L318.53 87.76 L320.74 88.11 L322.89 88.45 L325 88.76 L327.05 89.06 L329.06 89.34 L331.02 89.6 L332.94 89.88 L334.82 90.14 L336.66 90.39 L338.46 90.62 L340.23 90.84 L341.96 91.04 L343.65 91.22 L345.31 91.39 L346.95 91.54 L348.55 91.68 L350.12 91.81 L351.67 91.92 L353.19 92.01 L354.68 92.1 L356.15 92.17 L357.59 92.22 L359.01 92.26 L360.41 92.29 L361.79 92.3 L363.14 92.3 L364.47 92.29 L365.79 92.26 L367.08 92.22 L368.36 92.17 L369.61 92.1 L370.85 92.01 L372.07 91.92 L373.28 91.81 L374.47 91.68 L375.64 91.54 L376.79 91.39 L377.94 91.22 L379.06 91.04 L380.18 90.84 L381.27 90.62 L382.36 90.39 L383.43 90.14 L384.49 89.88 L385.54 89.6 L386.57 89.34 L387.59 89.06 L388.6 88.76 L389.6 88.45 L390.59 88.11 L391.56 87.76 L392.53 87.39 L393.48 86.99 L394.42 86.58 L395.36 86.14 L396.28 85.69 L397.2 85.2 L398.1 84.69 L399 84.16 L399.89 83.6 L400.76 83.01 L401.63 82.39 L402.49 81.73 L403.34 81.05 L404.19 80.32 L405.02 79.56 L405.85 78.75 L406.67 77.9 L407.48 76.93 L408.29 75.9 L409.09 74.8 L409.88 73.64 L410.66 72.4 L411.44 71.08 L412.21 69.66 L412.97 68.14 L413.73 66.49 L414.48 64.7 L415.22 62.75 L415.96 60.6 L416.69 58.21 L417.41 55.54 L418.13 52.49 L418.84 48.97 L419.55 44.79 L420.25 41 L420.95 35.9 L421.64 28.7" fill="none" stroke="#00ff00" stroke-width="0.9" stroke-linejoin="round"/>
<path d="M55.95 13.8h6.3M59.1 10.3v7M56.72 11.42l4.76 4.76M56.72 16.18l4.76 -4.76M91.36 32.6h6.3M94.51 29.1v7M92.13 30.22l4.76 4.76M92.13 34.98l4.76 -4.76M116.49 39.5h6.3M119.64 36v7M117.26 37.12l4.76 4.76M117.26 41.88l4.76 -4.76M135.98 44.79h6.3M139.13 41.29v7M136.75 42.41l4.76 4.76M136.75 47.17l4.76 -4.76M151.9 48.97h6.3M155.05 45.47v7M152.67 46.59l4.76 4.76M152.67 51.35l4.76 -4.76M165.36 52.49h6.3M168.51 48.99v7M166.13 50.11l4.76 4.76M166.13 54.87l4.76 -4.76M177.02 55.54h6.3M180.17 52.04v7M177.79 53.16l4.76 4.76M177.79 57.92l4.76 -4.76M187.31 58.21h6.3M190.46 54.71v7M188.08 55.83l4.76 4.76M188.08 60.59l4.76 -4.76M196.51 60.6h6.3M199.66 57.1v7M197.28 58.22l4.76 4.76M197.28 62.98l4.76 -4.76M204.84 62.75h6.3M207.99 59.25v7M205.61 60.37l4.76 4.76M205.61 65.13l4.76 -4.76M212.44 64.7h6.3M215.59 61.2v7M213.21 62.32l4.76 4.76M213.21 67.08l4.76 -4.76M219.43 66.49h6.3M222.58 62.99v7M220.2 64.11l4.76 4.76M220.2 68.87l4.76 -4.76M225.9 68.14h6.3M229.05 64.64v7M226.67 65.76l4.76 4.76M226.67 70.52l4.76 -4.76M231.92 69.66h6.3M235.07 66.16v7M232.69 67.28l4.76 4.76M232.69 72.04l4.76 -4.76M237.56 71.08h6.3M240.71 67.58v7M238.33 68.7l4.76 4.76M238.33 73.46l4.76 -4.76M242.86 72.4h6.3M246.01 68.9v7M243.63 70.02l4.76 4.76M243.63 74.78l4.76 -4.76M247.85 73.64h6.3M251 70.14v7M248.62 71.26l4.76 4.76M248.62 76.02l4.76 -4.76M252.57 74.8h6.3M255.72 71.3v7M253.34 72.42l4.76 4.76M253.34 77.18l4.76 -4.76M257.05 75.9h6.3M260.2 72.4v7M257.82 73.52l4.76 4.76M257.82 78.28l4.76 -4.76M261.31 76.93h6.3M264.46 73.43v7M262.08 74.55l4.76 4.76M262.08 79.31l4.76 -4.76M265.37 77.9h6.3M268.52 74.4v7M266.14 75.52l4.76 4.76M266.14 80.28l4.76 -4.76M269.26 78.75h6.3M272.41 75.25v7M270.03 76.37l4.76 4.76M270.03 81.13l4.76 -4.76M272.97 79.56h6.3M276.12 76.06v7M273.74 77.18l4.76 4.76M273.74 81.94l4.76 -4.76M276.54 80.32h6.3M279.69 76.82v7M277.31 77.94l4.76 4.76M277.31 82.7l4.76 -4.76M279.96 81.05h6.3M283.11 77.55v7M280.73 78.67l4.76 4.76M280.73 83.43l4.76 -4.76M283.26 81.73h6.3M286.41 78.23v7M284.03 79.35l4.76 4.76M284.03 84.11l4.76 -4.76M286.44 82.39h6.3M289.59 78.89v7M287.21 80.01l4.76 4.76M287.21 84.77l4.76 -4.76M289.5 83.01h6.3M292.65 79.51v7M290.27 80.63l4.76 4.76M290.27 85.39l4.76 -4.76M292.46 83.6h6.3M295.61 80.1v7M293.23 81.22l4.76 4.76M293.23 85.98l4.76 -4.76M295.33 84.16h6.3M298.48 80.66v7M296.1 81.78l4.76 4.76M296.1 86.54l4.76 -4.76M298.1 84.69h6.3M301.25 81.19v7M298.87 82.31l4.76 4.76M298.87 87.07l4.76 -4.76M300.79 85.2h6.3M303.94 81.7v7M301.56 82.82l4.76 4.76M301.56 87.58l4.76 -4.76M303.39 85.69h6.3M306.54 82.19v7M304.16 83.31l4.76 4.76M304.16 88.07l4.76 -4.76M305.92 86.14h6.3M309.07 82.64v7M306.69 83.76l4.76 4.76M306.69 88.52l4.76 -4.76M308.39 86.58h6.3M311.54 83.08v7M309.16 84.2l4.76 4.76M309.16 88.96l4.76 -4.76M310.78 86.99h6.3M313.93 83.49v7M311.55 84.61l4.76 4.76M311.55 89.37l4.76 -4.76M313.11 87.39h6.3M316.26 83.89v7M313.88 85.01l4.76 4.76M313.88 89.77l4.76 -4.76M315.38 87.76h6.3M318.53 84.26v7M316.15 85.38l4.76 4.76M316.15 90.14l4.76 -4.76M317.59 88.11h6.3M320.74 84.61v7M318.36 85.73l4.76 4.76M318.36 90.49l4.76 -4.76M319.74 88.45h6.3M322.89 84.95v7M320.51 86.07l4.76 4.76M320.51 90.83l4.76 -4.76M321.85 88.76h6.3M325 85.26v7M322.62 86.38l4.76 4.76M322.62 91.14l4.76 -4.76M323.9 89.06h6.3M327.05 85.56v7M324.67 86.68l4.76 4.76M324.67 91.44l4.76 -4.76M325.91 89.34h6.3M329.06 85.84v7M326.68 86.96l4.76 4.76M326.68 91.72l4.76 -4.76M327.87 89.6h6.3M331.02 86.1v7M328.64 87.22l4.76 4.76M328.64 91.98l4.76 -4.76M329.79 89.88h6.3M332.94 86.38v7M330.56 87.5l4.76 4.76M330.56 92.26l4.76 -4.76M331.67 90.14h6.3M334.82 86.64v7M332.44 87.76l4.76 4.76M332.44 92.52l4.76 -4.76M333.51 90.39h6.3M336.66 86.89v7M334.28 88.01l4.76 4.76M334.28 92.77l4.76 -4.76M335.31 90.62h6.3M338.46 87.12v7M336.08 88.24l4.76 4.76M336.08 93l4.76 -4.76M337.08 90.84h6.3M340.23 87.34v7M337.85 88.46l4.76 4.76M337.85 93.22l4.76 -4.76M338.81 91.04h6.3M341.96 87.54v7M339.58 88.66l4.76 4.76M339.58 93.42l4.76 -4.76M340.5 91.22h6.3M343.65 87.72v7M341.27 88.84l4.76 4.76M341.27 93.6l4.76 -4.76M342.16 91.39h6.3M345.31 87.89v7M342.93 89.01l4.76 4.76M342.93 93.77l4.76 -4.76M343.8 91.54h6.3M346.95 88.04v7M344.57 89.16l4.76 4.76M344.57 93.92l4.76 -4.76M345.4 91.68h6.3M348.55 88.18v7M346.17 89.3l4.76 4.76M346.17 94.06l4.76 -4.76M346.97 91.81h6.3M350.12 88.31v7M347.74 89.43l4.76 4.76M347.74 94.19l4.76 -4.76M348.52 91.92h6.3M351.67 88.42v7M349.29 89.54l4.76 4.76M349.29 94.3l4.76 -4.76M350.04 92.01h6.3M353.19 88.51v7M350.81 89.63l4.76 4.76M350.81 94.39l4.76 -4.76M351.53 92.1h6.3M354.68 88.6v7M352.3 89.72l4.76 4.76M352.3 94.48l4.76 -4.76M353 92.17h6.3M356.15 88.67v7M353.77 89.79l4.76 4.76M353.77 94.55l4.76 -4.76M354.44 92.22h6.3M357.59 88.72v7M355.21 89.84l4.76 4.76M355.21 94.6l4.76 -4.76M355.86 92.26h6.3M359.01 88.76v7M356.63 89.88l4.76 4.76M356.63 94.64l4.76 -4.76M357.26 92.29h6.3M360.41 88.79v7M358.03 89.91l4.76 4.76M358.03 94.67l4.76 -4.76M358.64 92.3h6.3M361.79 88.8v7M359.41 89.92l4.76 4.76M359.41 94.68l4.76 -4.76M359.99 92.3h6.3M363.14 88.8v7M360.76 89.92l4.76 4.76M360.76 94.68l4.76 -4.76M361.32 92.29h6.3M364.47 88.79v7M362.09 89.91l4.76 4.76M362.09 94.67l4.76 -4.76M362.64 92.26h6.3M365.79 88.76v7M363.41 89.88l4.76 4.76M363.41 94.64l4.76 -4.76M363.93 92.22h6.3M367.08 88.72v7M364.7 89.84l4.76 4.76M364.7 94.6l4.76 -4.76M365.21 92.17h6.3M368.36 88.67v7M365.98 89.79l4.76 4.76M365.98 94.55l4.76 -4.76M366.46 92.1h6.3M369.61 88.6v7M367.23 89.72l4.76 4.76M367.23 94.48l4.76 -4.76M367.7 92.01h6.3M370.85 88.51v7M368.47 89.63l4.76 4.76M368.47 94.39l4.76 -4.76M368.92 91.92h6.3M372.07 88.42v7M369.69 89.54l4.76 4.76M369.69 94.3l4.76 -4.76M370.13 91.81h6.3M373.28 88.31v7M370.9 89.43l4.76 4.76M370.9 94.19l4.76 -4.76M371.32 91.68h6.3M374.47 88.18v7M372.09 89.3l4.76 4.76M372.09 94.06l4.76 -4.76M372.49 91.54h6.3M375.64 88.04v7M373.26 89.16l4.76 4.76M373.26 93.92l4.76 -4.76M373.64 91.39h6.3M376.79 87.89v7M374.41 89.01l4.76 4.76M374.41 93.77l4.76 -4.76M374.79 91.22h6.3M377.94 87.72v7M375.56 88.84l4.76 4.76M375.56 93.6l4.76 -4.76M375.91 91.04h6.3M379.06 87.54v7M376.68 88.66l4.76 4.76M376.68 93.42l4.76 -4.76M377.03 90.84h6.3M380.18 87.34v7M377.8 88.46l4.76 4.76M377.8 93.22l4.76 -4.76M378.12 90.62h6.3M381.27 87.12v7M378.89 88.24l4.76 4.76M378.89 93l4.76 -4.76M379.21 90.39h6.3M382.36 86.89v7M379.98 88.01l4.76 4.76M379.98 92.77l4.76 -4.76M380.28 90.14h6.3M383.43 86.64v7M381.05 87.76l4.76 4.76M381.05 92.52l4.76 -4.76M381.34 89.88h6.3M384.49 86.38v7M382.11 87.5l4.76 4.76M382.11 92.26l4.76 -4.76M382.39 89.6h6.3M385.54 86.1v7M383.16 87.22l4.76 4.76M383.16 91.98l4.76 -4.76M383.42 89.34h6.3M386.57 85.84v7M384.19 86.96l4.76 4.76M384.19 91.72l4.76 -4.76M384.44 89.06h6.3M387.59 85.56v7M385.21 86.68l4.76 4.76M385.21 91.44l4.76 -4.76M385.45 88.76h6.3M388.6 85.26v7M386.22 86.38l4.76 4.76M386.22 91.14l4.76 -4.76M386.45 88.45h6.3M389.6 84.95v7M387.22 86.07l4.76 4.76M387.22 90.83l4.76 -4.76M387.44 88.11h6.3M390.59 84.61v7M388.21 85.73l4.76 4.76M388.21 90.49l4.76 -4.76M388.41 87.76h6.3M391.56 84.26v7M389.18 85.38l4.76 4.76M389.18 90.14l4.76 -4.76M389.38 87.39h6.3M392.53 83.89v7M390.15 85.01l4.76 4.76M390.15 89.77l4.76 -4.76M390.33 86.99h6.3M393.48 83.49v7M391.1 84.61l4.76 4.76M391.1 89.37l4.76 -4.76M391.27 86.58h6.3M394.42 83.08v7M392.04 84.2l4.76 4.76M392.04 88.96l4.76 -4.76M392.21 86.14h6.3M395.36 82.64v7M392.98 83.76l4.76 4.76M392.98 88.52l4.76 -4.76M393.13 85.69h6.3M396.28 82.19v7M393.9 83.31l4.76 4.76M393.9 88.07l4.76 -4.76M394.05 85.2h6.3M397.2 81.7v7M394.82 82.82l4.76 4.76M394.82 87.58l4.76 -4.76M394.95 84.69h6.3M398.1 81.19v7M395.72 82.31l4.76 4.76M395.72 87.07l4.76 -4.76M395.85 84.16h6.3M399 80.66v7M396.62 81.78l4.76 4.76M396.62 86.54l4.76 -4.76M396.74 83.6h6.3M399.89 80.1v7M397.51 81.22l4.76 4.76M397.51 85.98l4.76 -4.76M397.61 83.01h6.3M400.76 79.51v7M398.38 80.63l4.76 4.76M398.38 85.39l4.76 -4.76M398.48 82.39h6.3M401.63 78.89v7M399.25 80.01l4.76 4.76M399.25 84.77l4.76 -4.76M399.34 81.73h6.3M402.49 78.23v7M400.11 79.35l4.76 4.76M400.11 84.11l4.76 -4.76M400.19 81.05h6.3M403.34 77.55v7M400.96 78.67l4.76 4.76M400.96 83.43l4.76 -4.76M401.04 80.32h6.3M404.19 76.82v7M401.81 77.94l4.76 4.76M401.81 82.7l4.76 -4.76M401.87 79.56h6.3M405.02 76.06v7M402.64 77.18l4.76 4.76M402.64 81.94l4.76 -4.76M402.7 78.75h6.3M405.85 75.25v7M403.47 76.37l4.76 4.76M403.47 81.13l4.76 -4.76M403.52 77.9h6.3M406.67 74.4v7M404.29 75.52l4.76 4.76M404.29 80.28l4.76 -4.76M404.33 76.93h6.3M407.48 73.43v7M405.1 74.55l4.76 4.76M405.1 79.31l4.76 -4.76M405.14 75.9h6.3M408.29 72.4v7M405.91 73.52l4.76 4.76M405.91 78.28l4.76 -4.76M405.94 74.8h6.3M409.09 71.3v7M406.71 72.42l4.76 4.76M406.71 77.18l4.76 -4.76M406.73 73.64h6.3M409.88 70.14v7M407.5 71.26l4.76 4.76M407.5 76.02l4.76 -4.76M407.51 72.4h6.3M410.66 68.9v7M408.28 70.02l4.76 4.76M408.28 74.78l4.76 -4.76M408.29 71.08h6.3M411.44 67.58v7M409.06 68.7l4.76 4.76M409.06 73.46l4.76 -4.76M409.06 69.66h6.3M412.21 66.16v7M409.83 67.28l4.76 4.76M409.83 72.04l4.76 -4.76M409.82 68.14h6.3M412.97 64.64v7M410.59 65.76l4.76 4.76M410.59 70.52l4.76 -4.76M410.58 66.49h6.3M413.73 62.99v7M411.35 64.11l4.76 4.76M411.35 68.87l4.76 -4.76M411.33 64.7h6.3M414.48 61.2v7M412.1 62.32l4.76 4.76M412.1 67.08l4.76 -4.76M412.07 62.75h6.3M415.22 59.25v7M412.84 60.37l4.76 4.76M412.84 65.13l4.76 -4.76M412.81 60.6h6.3M415.96 57.1v7M413.58 58.22l4.76 4.76M413.58 62.98l4.76 -4.76M413.54 58.21h6.3M416.69 54.71v7M414.31 55.83l4.76 4.76M414.31 60.59l4.76 -4.76M414.26 55.54h6.3M417.41 52.04v7M415.03 53.16l4.76 4.76M415.03 57.92l4.76 -4.76M414.98 52.49h6.3M418.13 48.99v7M415.75 50.11l4.76 4.76M415.75 54.87l4.76 -4.76M415.69 48.97h6.3M418.84 45.47v7M416.46 46.59l4.76 4.76M416.46 51.35l4.76 -4.76M416.4 44.79h6.3M419.55 41.29v7M417.17 42.41l4.76 4.76M417.17 47.17l4.76 -4.76M417.1 41h6.3M420.25 37.5v7M417.87 38.62l4.76 4.76M417.87 43.38l4.76 -4.76M417.8 35.9h6.3M420.95 32.4v7M418.57 33.52l4.76 4.76M418.57 38.28l4.76 -4.76M418.49 28.7h6.3M421.64 25.2v7M419.26 26.32l4.76 4.76M419.26 31.08l4.76 -4.76" fill="none" stroke="#00ff00" stroke-width="0.95"/>
<path d="M59.1 11.2 L94.51 32.4 L119.64 39.5 L139.13 44.99 L155.05 49.17 L168.51 52.69 L180.17 55.74 L190.46 58.41 L199.66 60.8 L207.99 62.95 L215.59 64.9 L222.58 66.69 L229.05 68.34 L235.07 69.86 L240.71 71.28 L246.01 72.6 L251 73.84 L255.72 75 L260.2 76.1 L264.46 77.13 L268.52 78.1 L272.41 78.95 L276.12 79.76 L279.69 80.52 L283.11 81.25 L286.41 81.93 L289.59 82.59 L292.65 83.21 L295.61 83.8 L298.48 84.36 L301.25 84.89 L303.94 85.4 L306.54 85.89 L309.07 86.34 L311.54 86.78 L313.93 87.19 L316.26 87.59 L318.53 87.96 L320.74 88.31 L322.89 88.65 L325 88.96 L327.05 89.26 L329.06 89.54 L331.02 89.8 L332.94 90.08 L334.82 90.34 L336.66 90.59 L338.46 90.82 L340.23 91.04 L341.96 91.24 L343.65 91.42 L345.31 91.59 L346.95 91.74 L348.55 91.88 L350.12 92.01 L351.67 92.12 L353.19 92.21 L354.68 92.3 L356.15 92.37 L357.59 92.42 L359.01 92.46 L360.41 92.49 L361.79 92.5 L363.14 92.5 L364.47 92.49 L365.79 92.46 L367.08 92.42 L368.36 92.37 L369.61 92.3 L370.85 92.21 L372.07 92.12 L373.28 92.01 L374.47 91.88 L375.64 91.74 L376.79 91.59 L377.94 91.42 L379.06 91.24 L380.18 91.04 L381.27 90.82 L382.36 90.59 L383.43 90.34 L384.49 90.08 L385.54 89.8 L386.57 89.54 L387.59 89.26 L388.6 88.96 L389.6 88.65 L390.59 88.31 L391.56 87.96 L392.53 87.59 L393.48 87.19 L394.42 86.78 L395.36 86.34 L396.28 85.89 L397.2 85.4 L398.1 84.89 L399 84.36 L399.89 83.8 L400.76 83.21 L401.63 82.59 L402.49 81.93 L403.34 81.25 L404.19 80.52 L405.02 79.76 L405.85 78.95 L406.67 78.1 L407.48 77.13 L408.29 76.1 L409.09 75 L409.88 73.84 L410.66 72.6 L411.44 71.28 L412.21 69.86 L412.97 68.34 L413.73 66.69 L414.48 64.9 L415.22 62.95 L415.96 60.8 L416.69 58.41 L417.41 55.74 L418.13 52.69 L418.84 49.17 L419.55 44.99 L420.25 41 L420.95 35.9 L421.64 28.7" fill="none" stroke="#0000ff" stroke-width="0.9" stroke-linejoin="round"/>
<path d="M55.95 11.2h6.3M59.1 7.7v7M56.72 8.82l4.76 4.76M56.72 13.58l4.76 -4.76M91.36 32.4h6.3M94.51 28.9v7M92.13 30.02l4.76 4.76M92.13 34.78l4.76 -4.76M116.49 39.5h6.3M119.64 36v7M117.26 37.12l4.76 4.76M117.26 41.88l4.76 -4.76M135.98 44.99h6.3M139.13 41.49v7M136.75 42.61l4.76 4.76M136.75 47.37l4.76 -4.76M151.9 49.17h6.3M155.05 45.67v7M152.67 46.79l4.76 4.76M152.67 51.55l4.76 -4.76M165.36 52.69h6.3M168.51 49.19v7M166.13 50.31l4.76 4.76M166.13 55.07l4.76 -4.76M177.02 55.74h6.3M180.17 52.24v7M177.79 53.36l4.76 4.76M177.79 58.12l4.76 -4.76M187.31 58.41h6.3M190.46 54.91v7M188.08 56.03l4.76 4.76M188.08 60.79l4.76 -4.76M196.51 60.8h6.3M199.66 57.3v7M197.28 58.42l4.76 4.76M197.28 63.18l4.76 -4.76M204.84 62.95h6.3M207.99 59.45v7M205.61 60.57l4.76 4.76M205.61 65.33l4.76 -4.76M212.44 64.9h6.3M215.59 61.4v7M213.21 62.52l4.76 4.76M213.21 67.28l4.76 -4.76M219.43 66.69h6.3M222.58 63.19v7M220.2 64.31l4.76 4.76M220.2 69.07l4.76 -4.76M225.9 68.34h6.3M229.05 64.84v7M226.67 65.96l4.76 4.76M226.67 70.72l4.76 -4.76M231.92 69.86h6.3M235.07 66.36v7M232.69 67.48l4.76 4.76M232.69 72.24l4.76 -4.76M237.56 71.28h6.3M240.71 67.78v7M238.33 68.9l4.76 4.76M238.33 73.66l4.76 -4.76M242.86 72.6h6.3M246.01 69.1v7M243.63 70.22l4.76 4.76M243.63 74.98l4.76 -4.76M247.85 73.84h6.3M251 70.34v7M248.62 71.46l4.76 4.76M248.62 76.22l4.76 -4.76M252.57 75h6.3M255.72 71.5v7M253.34 72.62l4.76 4.76M253.34 77.38l4.76 -4.76M257.05 76.1h6.3M260.2 72.6v7M257.82 73.72l4.76 4.76M257.82 78.48l4.76 -4.76M261.31 77.13h6.3M264.46 73.63v7M262.08 74.75l4.76 4.76M262.08 79.51l4.76 -4.76M265.37 78.1h6.3M268.52 74.6v7M266.14 75.72l4.76 4.76M266.14 80.48l4.76 -4.76M269.26 78.95h6.3M272.41 75.45v7M270.03 76.57l4.76 4.76M270.03 81.33l4.76 -4.76M272.97 79.76h6.3M276.12 76.26v7M273.74 77.38l4.76 4.76M273.74 82.14l4.76 -4.76M276.54 80.52h6.3M279.69 77.02v7M277.31 78.14l4.76 4.76M277.31 82.9l4.76 -4.76M279.96 81.25h6.3M283.11 77.75v7M280.73 78.87l4.76 4.76M280.73 83.63l4.76 -4.76M283.26 81.93h6.3M286.41 78.43v7M284.03 79.55l4.76 4.76M284.03 84.31l4.76 -4.76M286.44 82.59h6.3M289.59 79.09v7M287.21 80.21l4.76 4.76M287.21 84.97l4.76 -4.76M289.5 83.21h6.3M292.65 79.71v7M290.27 80.83l4.76 4.76M290.27 85.59l4.76 -4.76M292.46 83.8h6.3M295.61 80.3v7M293.23 81.42l4.76 4.76M293.23 86.18l4.76 -4.76M295.33 84.36h6.3M298.48 80.86v7M296.1 81.98l4.76 4.76M296.1 86.74l4.76 -4.76M298.1 84.89h6.3M301.25 81.39v7M298.87 82.51l4.76 4.76M298.87 87.27l4.76 -4.76M300.79 85.4h6.3M303.94 81.9v7M301.56 83.02l4.76 4.76M301.56 87.78l4.76 -4.76M303.39 85.89h6.3M306.54 82.39v7M304.16 83.51l4.76 4.76M304.16 88.27l4.76 -4.76M305.92 86.34h6.3M309.07 82.84v7M306.69 83.96l4.76 4.76M306.69 88.72l4.76 -4.76M308.39 86.78h6.3M311.54 83.28v7M309.16 84.4l4.76 4.76M309.16 89.16l4.76 -4.76M310.78 87.19h6.3M313.93 83.69v7M311.55 84.81l4.76 4.76M311.55 89.57l4.76 -4.76M313.11 87.59h6.3M316.26 84.09v7M313.88 85.21l4.76 4.76M313.88 89.97l4.76 -4.76M315.38 87.96h6.3M318.53 84.46v7M316.15 85.58l4.76 4.76M316.15 90.34l4.76 -4.76M317.59 88.31h6.3M320.74 84.81v7M318.36 85.93l4.76 4.76M318.36 90.69l4.76 -4.76M319.74 88.65h6.3M322.89 85.15v7M320.51 86.27l4.76 4.76M320.51 91.03l4.76 -4.76M321.85 88.96h6.3M325 85.46v7M322.62 86.58l4.76 4.76M322.62 91.34l4.76 -4.76M323.9 89.26h6.3M327.05 85.76v7M324.67 86.88l4.76 4.76M324.67 91.64l4.76 -4.76M325.91 89.54h6.3M329.06 86.04v7M326.68 87.16l4.76 4.76M326.68 91.92l4.76 -4.76M327.87 89.8h6.3M331.02 86.3v7M328.64 87.42l4.76 4.76M328.64 92.18l4.76 -4.76M329.79 90.08h6.3M332.94 86.58v7M330.56 87.7l4.76 4.76M330.56 92.46l4.76 -4.76M331.67 90.34h6.3M334.82 86.84v7M332.44 87.96l4.76 4.76M332.44 92.72l4.76 -4.76M333.51 90.59h6.3M336.66 87.09v7M334.28 88.21l4.76 4.76M334.28 92.97l4.76 -4.76M335.31 90.82h6.3M338.46 87.32v7M336.08 88.44l4.76 4.76M336.08 93.2l4.76 -4.76M337.08 91.04h6.3M340.23 87.54v7M337.85 88.66l4.76 4.76M337.85 93.42l4.76 -4.76M338.81 91.24h6.3M341.96 87.74v7M339.58 88.86l4.76 4.76M339.58 93.62l4.76 -4.76M340.5 91.42h6.3M343.65 87.92v7M341.27 89.04l4.76 4.76M341.27 93.8l4.76 -4.76M342.16 91.59h6.3M345.31 88.09v7M342.93 89.21l4.76 4.76M342.93 93.97l4.76 -4.76M343.8 91.74h6.3M346.95 88.24v7M344.57 89.36l4.76 4.76M344.57 94.12l4.76 -4.76M345.4 91.88h6.3M348.55 88.38v7M346.17 89.5l4.76 4.76M346.17 94.26l4.76 -4.76M346.97 92.01h6.3M350.12 88.51v7M347.74 89.63l4.76 4.76M347.74 94.39l4.76 -4.76M348.52 92.12h6.3M351.67 88.62v7M349.29 89.74l4.76 4.76M349.29 94.5l4.76 -4.76M350.04 92.21h6.3M353.19 88.71v7M350.81 89.83l4.76 4.76M350.81 94.59l4.76 -4.76M351.53 92.3h6.3M354.68 88.8v7M352.3 89.92l4.76 4.76M352.3 94.68l4.76 -4.76M353 92.37h6.3M356.15 88.87v7M353.77 89.99l4.76 4.76M353.77 94.75l4.76 -4.76M354.44 92.42h6.3M357.59 88.92v7M355.21 90.04l4.76 4.76M355.21 94.8l4.76 -4.76M355.86 92.46h6.3M359.01 88.96v7M356.63 90.08l4.76 4.76M356.63 94.84l4.76 -4.76M357.26 92.49h6.3M360.41 88.99v7M358.03 90.11l4.76 4.76M358.03 94.87l4.76 -4.76M358.64 92.5h6.3M361.79 89v7M359.41 90.12l4.76 4.76M359.41 94.88l4.76 -4.76M359.99 92.5h6.3M363.14 89v7M360.76 90.12l4.76 4.76M360.76 94.88l4.76 -4.76M361.32 92.49h6.3M364.47 88.99v7M362.09 90.11l4.76 4.76M362.09 94.87l4.76 -4.76M362.64 92.46h6.3M365.79 88.96v7M363.41 90.08l4.76 4.76M363.41 94.84l4.76 -4.76M363.93 92.42h6.3M367.08 88.92v7M364.7 90.04l4.76 4.76M364.7 94.8l4.76 -4.76M365.21 92.37h6.3M368.36 88.87v7M365.98 89.99l4.76 4.76M365.98 94.75l4.76 -4.76M366.46 92.3h6.3M369.61 88.8v7M367.23 89.92l4.76 4.76M367.23 94.68l4.76 -4.76M367.7 92.21h6.3M370.85 88.71v7M368.47 89.83l4.76 4.76M368.47 94.59l4.76 -4.76M368.92 92.12h6.3M372.07 88.62v7M369.69 89.74l4.76 4.76M369.69 94.5l4.76 -4.76M370.13 92.01h6.3M373.28 88.51v7M370.9 89.63l4.76 4.76M370.9 94.39l4.76 -4.76M371.32 91.88h6.3M374.47 88.38v7M372.09 89.5l4.76 4.76M372.09 94.26l4.76 -4.76M372.49 91.74h6.3M375.64 88.24v7M373.26 89.36l4.76 4.76M373.26 94.12l4.76 -4.76M373.64 91.59h6.3M376.79 88.09v7M374.41 89.21l4.76 4.76M374.41 93.97l4.76 -4.76M374.79 91.42h6.3M377.94 87.92v7M375.56 89.04l4.76 4.76M375.56 93.8l4.76 -4.76M375.91 91.24h6.3M379.06 87.74v7M376.68 88.86l4.76 4.76M376.68 93.62l4.76 -4.76M377.03 91.04h6.3M380.18 87.54v7M377.8 88.66l4.76 4.76M377.8 93.42l4.76 -4.76M378.12 90.82h6.3M381.27 87.32v7M378.89 88.44l4.76 4.76M378.89 93.2l4.76 -4.76M379.21 90.59h6.3M382.36 87.09v7M379.98 88.21l4.76 4.76M379.98 92.97l4.76 -4.76M380.28 90.34h6.3M383.43 86.84v7M381.05 87.96l4.76 4.76M381.05 92.72l4.76 -4.76M381.34 90.08h6.3M384.49 86.58v7M382.11 87.7l4.76 4.76M382.11 92.46l4.76 -4.76M382.39 89.8h6.3M385.54 86.3v7M383.16 87.42l4.76 4.76M383.16 92.18l4.76 -4.76M383.42 89.54h6.3M386.57 86.04v7M384.19 87.16l4.76 4.76M384.19 91.92l4.76 -4.76M384.44 89.26h6.3M387.59 85.76v7M385.21 86.88l4.76 4.76M385.21 91.64l4.76 -4.76M385.45 88.96h6.3M388.6 85.46v7M386.22 86.58l4.76 4.76M386.22 91.34l4.76 -4.76M386.45 88.65h6.3M389.6 85.15v7M387.22 86.27l4.76 4.76M387.22 91.03l4.76 -4.76M387.44 88.31h6.3M390.59 84.81v7M388.21 85.93l4.76 4.76M388.21 90.69l4.76 -4.76M388.41 87.96h6.3M391.56 84.46v7M389.18 85.58l4.76 4.76M389.18 90.34l4.76 -4.76M389.38 87.59h6.3M392.53 84.09v7M390.15 85.21l4.76 4.76M390.15 89.97l4.76 -4.76M390.33 87.19h6.3M393.48 83.69v7M391.1 84.81l4.76 4.76M391.1 89.57l4.76 -4.76M391.27 86.78h6.3M394.42 83.28v7M392.04 84.4l4.76 4.76M392.04 89.16l4.76 -4.76M392.21 86.34h6.3M395.36 82.84v7M392.98 83.96l4.76 4.76M392.98 88.72l4.76 -4.76M393.13 85.89h6.3M396.28 82.39v7M393.9 83.51l4.76 4.76M393.9 88.27l4.76 -4.76M394.05 85.4h6.3M397.2 81.9v7M394.82 83.02l4.76 4.76M394.82 87.78l4.76 -4.76M394.95 84.89h6.3M398.1 81.39v7M395.72 82.51l4.76 4.76M395.72 87.27l4.76 -4.76M395.85 84.36h6.3M399 80.86v7M396.62 81.98l4.76 4.76M396.62 86.74l4.76 -4.76M396.74 83.8h6.3M399.89 80.3v7M397.51 81.42l4.76 4.76M397.51 86.18l4.76 -4.76M397.61 83.21h6.3M400.76 79.71v7M398.38 80.83l4.76 4.76M398.38 85.59l4.76 -4.76M398.48 82.59h6.3M401.63 79.09v7M399.25 80.21l4.76 4.76M399.25 84.97l4.76 -4.76M399.34 81.93h6.3M402.49 78.43v7M400.11 79.55l4.76 4.76M400.11 84.31l4.76 -4.76M400.19 81.25h6.3M403.34 77.75v7M400.96 78.87l4.76 4.76M400.96 83.63l4.76 -4.76M401.04 80.52h6.3M404.19 77.02v7M401.81 78.14l4.76 4.76M401.81 82.9l4.76 -4.76M401.87 79.76h6.3M405.02 76.26v7M402.64 77.38l4.76 4.76M402.64 82.14l4.76 -4.76M402.7 78.95h6.3M405.85 75.45v7M403.47 76.57l4.76 4.76M403.47 81.33l4.76 -4.76M403.52 78.1h6.3M406.67 74.6v7M404.29 75.72l4.76 4.76M404.29 80.48l4.76 -4.76M404.33 77.13h6.3M407.48 73.63v7M405.1 74.75l4.76 4.76M405.1 79.51l4.76 -4.76M405.14 76.1h6.3M408.29 72.6v7M405.91 73.72l4.76 4.76M405.91 78.48l4.76 -4.76M405.94 75h6.3M409.09 71.5v7M406.71 72.62l4.76 4.76M406.71 77.38l4.76 -4.76M406.73 73.84h6.3M409.88 70.34v7M407.5 71.46l4.76 4.76M407.5 76.22l4.76 -4.76M407.51 72.6h6.3M410.66 69.1v7M408.28 70.22l4.76 4.76M408.28 74.98l4.76 -4.76M408.29 71.28h6.3M411.44 67.78v7M409.06 68.9l4.76 4.76M409.06 73.66l4.76 -4.76M409.06 69.86h6.3M412.21 66.36v7M409.83 67.48l4.76 4.76M409.83 72.24l4.76 -4.76M409.82 68.34h6.3M412.97 64.84v7M410.59 65.96l4.76 4.76M410.59 70.72l4.76 -4.76M410.58 66.69h6.3M413.73 63.19v7M411.35 64.31l4.76 4.76M411.35 69.07l4.76 -4.76M411.33 64.9h6.3M414.48 61.4v7M412.1 62.52l4.76 4.76M412.1 67.28l4.76 -4.76M412.07 62.95h6.3M415.22 59.45v7M412.84 60.57l4.76 4.76M412.84 65.33l4.76 -4.76M412.81 60.8h6.3M415.96 57.3v7M413.58 58.42l4.76 4.76M413.58 63.18l4.76 -4.76M413.54 58.41h6.3M416.69 54.91v7M414.31 56.03l4.76 4.76M414.31 60.79l4.76 -4.76M414.26 55.74h6.3M417.41 52.24v7M415.03 53.36l4.76 4.76M415.03 58.12l4.76 -4.76M414.98 52.69h6.3M418.13 49.19v7M415.75 50.31l4.76 4.76M415.75 55.07l4.76 -4.76M415.69 49.17h6.3M418.84 45.67v7M416.46 46.79l4.76 4.76M416.46 51.55l4.76 -4.76M416.4 44.99h6.3M419.55 41.49v7M417.17 42.61l4.76 4.76M417.17 47.37l4.76 -4.76M417.1 41h6.3M420.25 37.5v7M417.87 38.62l4.76 4.76M417.87 43.38l4.76 -4.76M417.8 35.9h6.3M420.95 32.4v7M418.57 33.52l4.76 4.76M418.57 38.28l4.76 -4.76M418.49 28.7h6.3M421.64 25.2v7M419.26 26.32l4.76 4.76M419.26 31.08l4.76 -4.76" fill="none" stroke="#0000ff" stroke-width="0.95"/>
</g>
<path d="M59.1 271.35v-4.2M59.1 1.6v4.2M94.51 271.35v-4.2M94.51 1.6v4.2M119.64 271.35v-4.2M119.64 1.6v4.2M139.13 271.35v-4.2M139.13 1.6v4.2M155.05 271.35v-4.2M155.05 1.6v4.2M168.51 271.35v-4.2M168.51 1.6v4.2M180.17 271.35v-4.2M180.17 1.6v4.2M190.46 271.35v-4.2M190.46 1.6v4.2M199.66 271.35v-7.8M199.66 1.6v7.8M260.2 271.35v-4.2M260.2 1.6v4.2M295.61 271.35v-4.2M295.61 1.6v4.2M320.74 271.35v-4.2M320.74 1.6v4.2M340.23 271.35v-4.2M340.23 1.6v4.2M356.15 271.35v-4.2M356.15 1.6v4.2M369.61 271.35v-4.2M369.61 1.6v4.2M381.27 271.35v-4.2M381.27 1.6v4.2M391.56 271.35v-4.2M391.56 1.6v4.2M400.76 271.35v-7.8M400.76 1.6v7.8M49 215.3h7.8M434.3 215.3h-7.8M49 173.07h4.2M434.3 173.07h-4.2M49 75h7.8M434.3 75h-7.8M49 32.77h4.2M434.3 32.77h-4.2" stroke="#000000" stroke-width="1.35" fill="none"/>
<rect x="49" y="1.6" width="385.3" height="269.75" fill="none" stroke="#000000" stroke-width="1.45"/>
<g font-family="Liberation Serif, serif" font-size="18" fill="#000" transform="rotate(0.02)">
<text x="200.8" y="287.45" text-anchor="middle" textLength="16.6" lengthAdjust="spacingAndGlyphs">10</text>
<text x="401.9" y="287.45" text-anchor="middle" textLength="25.9" lengthAdjust="spacingAndGlyphs">100</text>
<text x="45.7" y="81.5" text-anchor="end" textLength="20.6" lengthAdjust="spacingAndGlyphs">0.1</text>
<text x="46.0" y="222.5" text-anchor="end" textLength="29.4" lengthAdjust="spacingAndGlyphs">0.01</text>
<text x="242" y="306.7" text-anchor="middle" font-size="18.2">x</text>
<text font-size="17.6" transform="translate(17.1 204) rotate(-90) scale(1.0 1.0)" >&lt;</text>
<text font-size="17.6" transform="translate(17.1 196.3) rotate(-90) scale(1.22 1.1)" >&#936;</text>
<text font-size="12.5" transform="translate(8.1 181.3) rotate(-90) scale(1.0 1.0)" stroke="#000" stroke-width="0.35">+</text>
<text font-size="17.6" transform="translate(17.1 173.5) rotate(-90) scale(1.0 1.0)" >(x/2)</text>
<text font-size="17.6" transform="translate(17.1 131.6) rotate(-90) scale(1.0 1.1)" >&#936;</text>
<text font-size="17.6" transform="translate(17.1 118) rotate(-90) scale(1.0 1.0)" >(-x/2)&gt;</text>
</g>
<rect x="254.8" y="22.3" width="62" height="21.6" fill="#fff" stroke="#333" stroke-width="1"/>
<text x="285.2" y="39" text-anchor="middle" font-family="Liberation Serif, serif" font-size="17.8" textLength="49.6" lengthAdjust="spacingAndGlyphs" fill="#000">L=128</text>
<rect x="68.4" y="175.2" width="66.6" height="76.8" fill="#fff" stroke="#333" stroke-width="1"/>
<path d="M75.2 189.2H90.8" stroke="#000000" stroke-width="1"/>
<circle cx="75.2" cy="189.2" r="3.5" fill="#000000"/><circle cx="90.8" cy="189.2" r="3.5" fill="#000000"/>
<path d="M75.2 209.2H90.8" stroke="#ff0000" stroke-width="1"/>
<circle cx="75.2" cy="209.2" r="3.5" fill="#ff0000"/><circle cx="90.8" cy="209.2" r="3.5" fill="#ff0000"/>
<path d="M75.2 225.8H90.8" stroke="#00ff00" stroke-width="1"/>
<circle cx="75.2" cy="225.8" r="3.5" fill="#00ff00"/><circle cx="90.8" cy="225.8" r="3.5" fill="#00ff00"/>
<path d="M75.2 242H90.8" stroke="#0000ff" stroke-width="1"/>
<circle cx="75.2" cy="242" r="3.5" fill="#0000ff"/><circle cx="90.8" cy="242" r="3.5" fill="#0000ff"/>
<g font-family="Liberation Serif, serif" font-size="17.6" fill="#000">
<text transform="translate(97.2 191.8) scale(1.2 1.03)" font-size="18.5">&#949;</text>
<text x="105.6" y="198.8" font-size="13.8">0</text>
<text x="112.8" y="191.8" textLength="19.8" lengthAdjust="spacingAndGlyphs">=0</text>
<text x="97.2" y="214.8" textLength="23.2" lengthAdjust="spacingAndGlyphs">0.5</text>
<text x="98.1" y="231.5">1</text>
<text x="97.9" y="247.8" textLength="9.4" lengthAdjust="spacingAndGlyphs">2</text>
</g>
</svg>
</body></html>
